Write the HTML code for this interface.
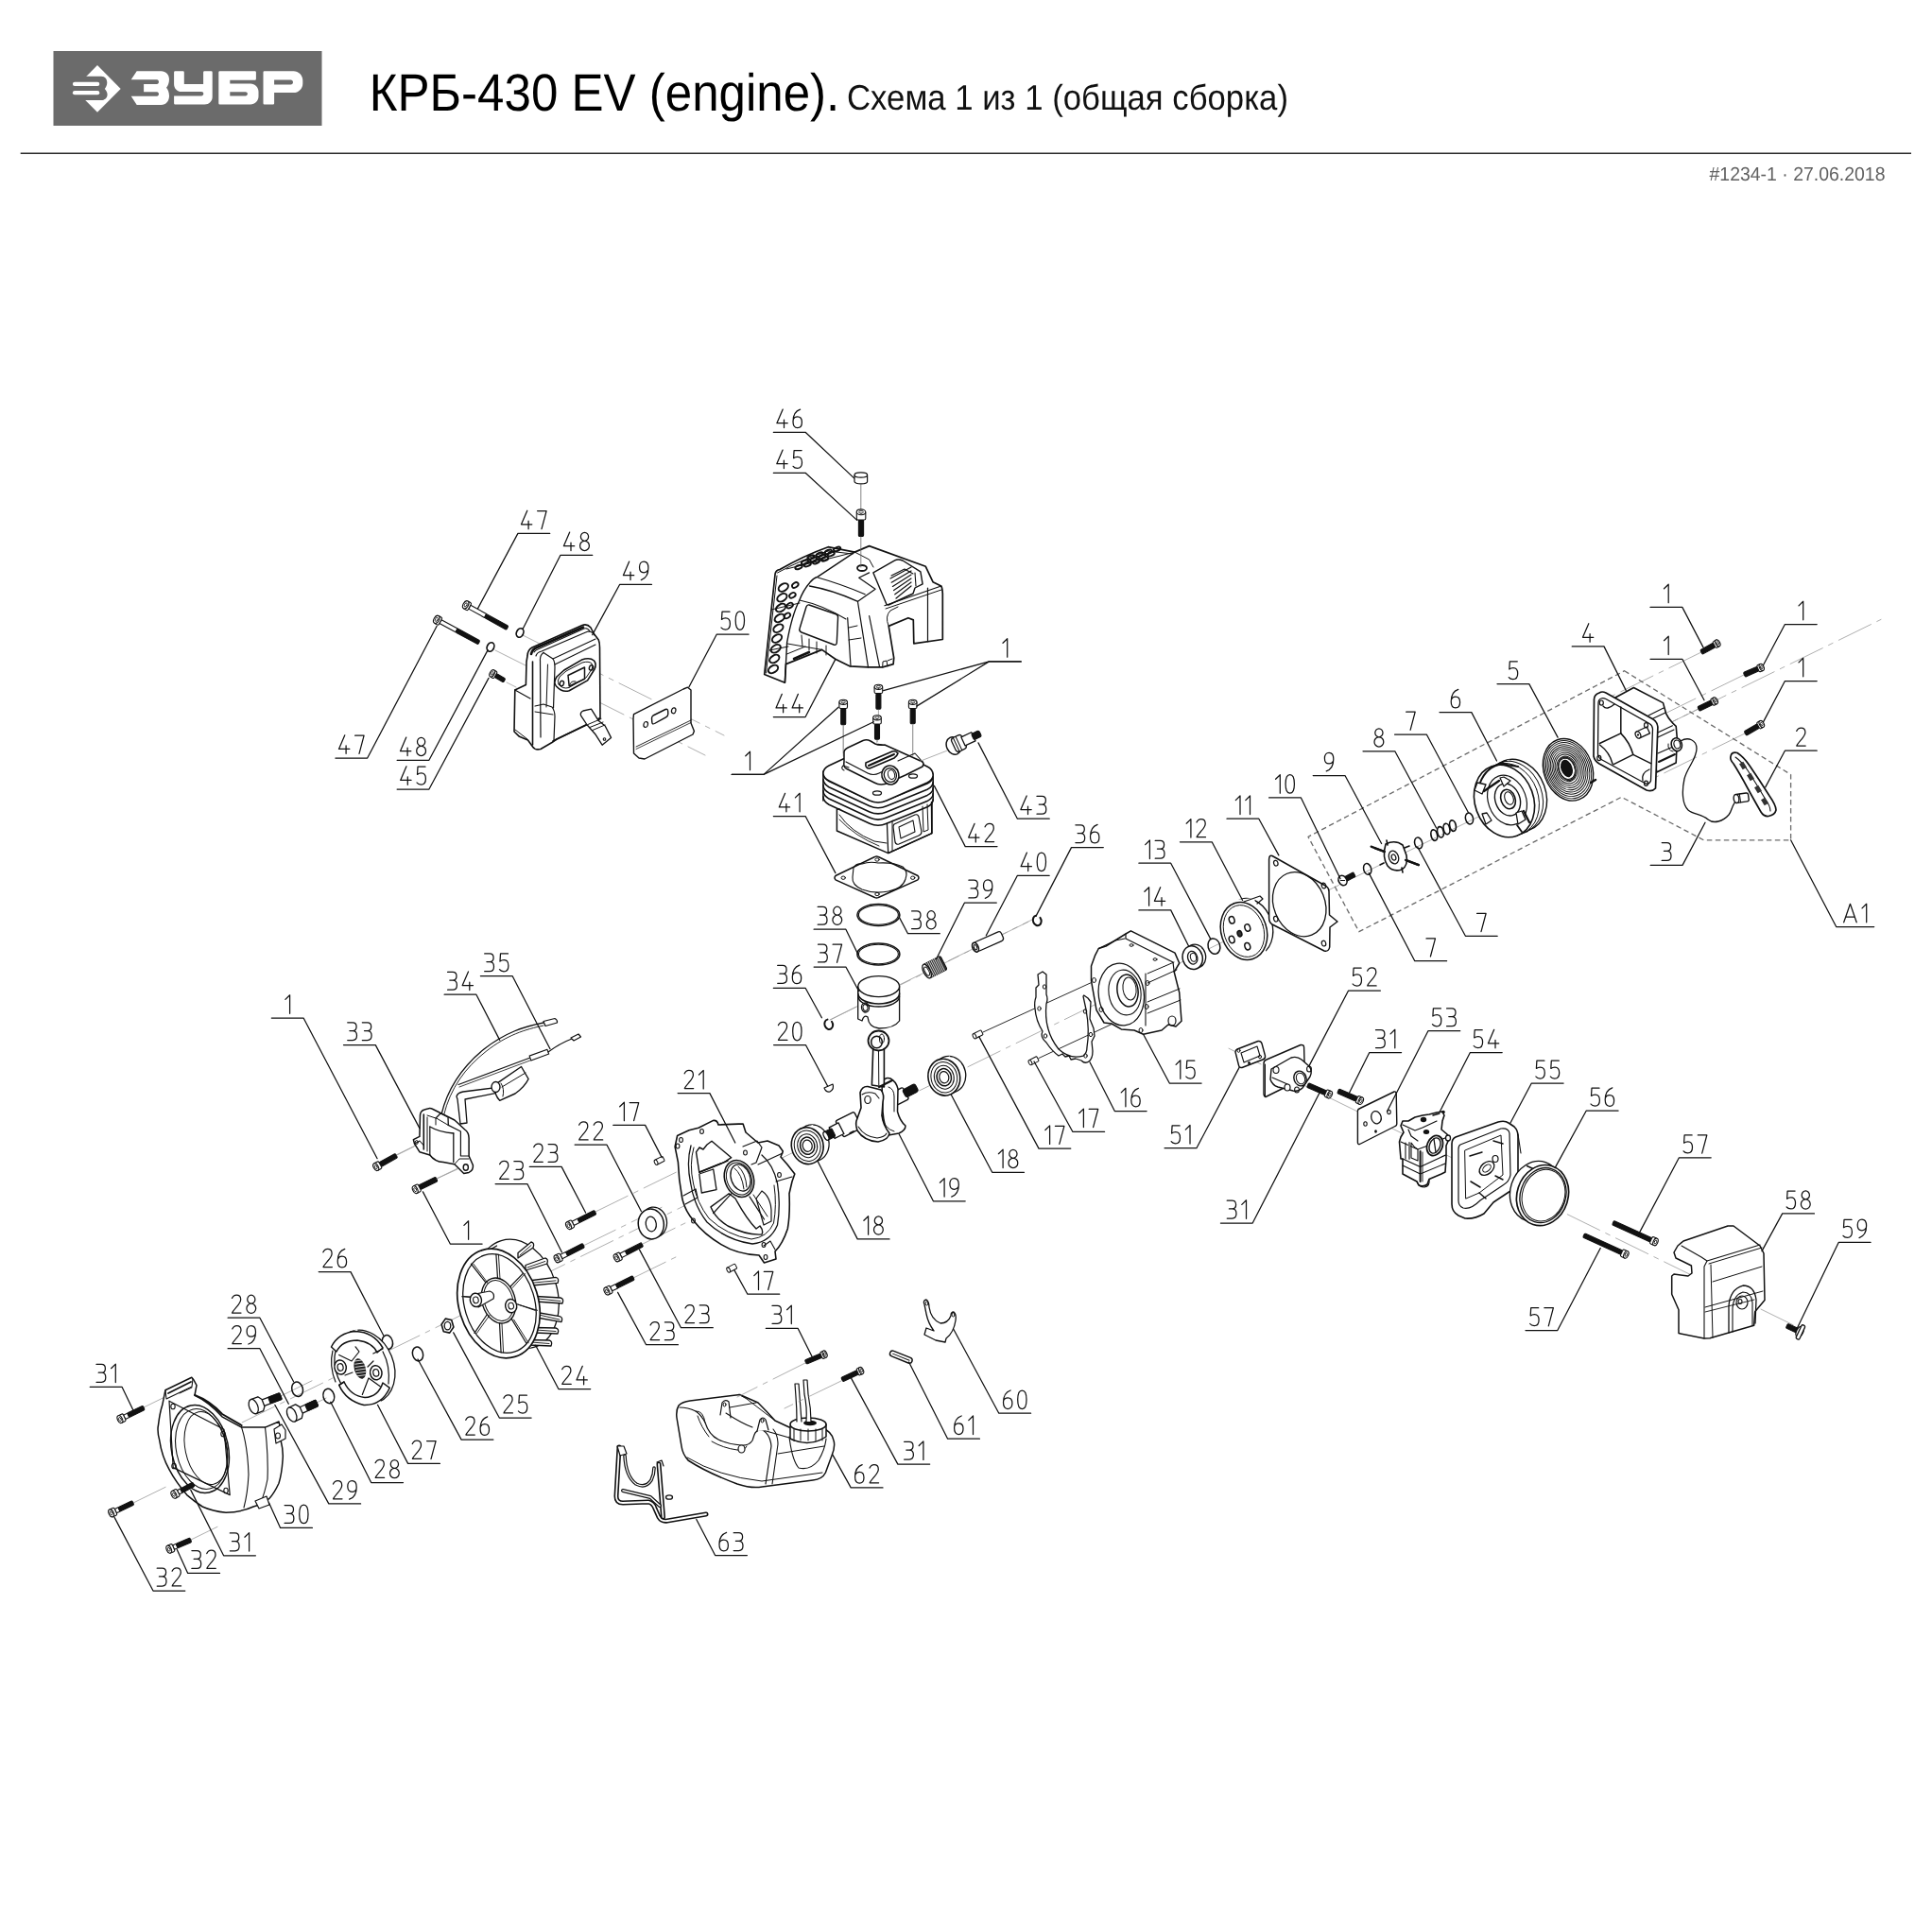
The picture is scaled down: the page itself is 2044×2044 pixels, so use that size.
<!DOCTYPE html>
<html><head><meta charset="utf-8"><title>КРБ-430 EV</title>
<style>html,body{margin:0;padding:0;background:#fff;width:2044px;height:2044px;overflow:hidden}svg{display:block}text{-webkit-font-smoothing:antialiased;text-rendering:geometricPrecision}.ax{stroke:#9a9a9a;stroke-width:0.8;stroke-dasharray:38 7 5 7;fill:none}</style>
</head><body>
<svg xmlns="http://www.w3.org/2000/svg" width="2044" height="2044" viewBox="0 0 2044 2044">
<rect width="2044" height="2044" fill="#fff"/>
<defs><filter id="nolcd" x="0" y="0" width="1" height="1"><feOffset dx="0" dy="0"/></filter></defs>
<rect x="56.5" y="54" width="284" height="79" fill="#6b6b6b"/>
<g fill="#fff" stroke="none">
<polygon points="103,68.9 127.7,93.9 103,118.7 78.3,93.9"/>
<path fill="#6b6b6b" d="M78,80.7 H107 C111.3,80.7 113.4,84 113.3,87.4 C113.2,90.3 112,92.3 110.8,93.9 C112.2,95.4 113.6,97.6 113.6,100 C113.6,103.6 110.7,106.1 107,106.1 H78 Z"/>
<rect x="76.9" y="86.8" width="28.4" height="4.2" rx="2.1"/>
<rect x="76.9" y="96.1" width="28.4" height="4.2" rx="2.1"/>
<path d="M144.7,75.2 H170.5 C175.5,75.2 179,79 179,84 C179,88 177.5,91 176,92.8 C177.5,94.5 179,97.5 179,101.5 C179,107 175.5,111 170.5,111 H144.7 L138.7,101.7 H166 C167.3,101.7 168,100.7 168,99.5 C168,98.2 167.3,97.2 166,97.2 H152.1 V89 H166 C167.3,89 168,88 168,86.8 C168,85.5 167.3,84.2 166,84.2 H138.7 Z"/>
<path d="M184.1,76.5 Q184.1,75.3 185.3,75.3 H193.6 Q194.8,75.3 194.8,76.5 V89 H215.1 V76.5 Q215.1,75.3 216.3,75.3 H223.5 Q224.7,75.3 224.7,76.5 V102.5 C224.7,107 221,110.5 216.5,110.5 H185.3 Q184.1,110.5 184.1,109.3 V101.4 H213 C214.4,101.4 215.3,100.4 215.3,99.2 C215.3,98 214.4,97.1 213,97.1 H192 C187.6,97.1 184.1,93.6 184.1,89.2 Z"/>
<path d="M231.3,76.5 Q231.3,75.3 232.5,75.3 H269.7 Q270.9,75.3 270.9,76.5 V83.6 Q270.9,84.8 269.7,84.8 H243.3 V88.6 H265 C269.7,88.6 273.5,92.4 273.5,97.1 V102 C273.5,106.7 269.7,110.5 265,110.5 H232.5 Q231.3,110.5 231.3,109.3 Z M243.3,97.3 V101.4 H259.7 C261,101.4 261.9,100.5 261.9,99.3 C261.9,98.2 261,97.3 259.7,97.3 Z" fill-rule="evenodd"/>
<path d="M278.5,76.5 Q278.5,75.3 279.7,75.3 H310.5 C315.8,75.3 320.3,79.6 320.3,85 V88.4 C320.3,93.8 315.8,98.1 310.5,98.1 H290.1 V109.3 Q290.1,110.5 288.9,110.5 H279.7 Q278.5,110.5 278.5,109.3 Z M290.1,84.4 V89.4 H307.6 C309,89.4 310,88.3 310,86.9 C310,85.5 309,84.4 307.6,84.4 Z" fill-rule="evenodd"/>
</g>
<text x="390.8" y="116.5" font-family="Liberation Sans" font-size="55.5" fill="#000" filter="url(#nolcd)" textLength="497.5" lengthAdjust="spacingAndGlyphs">КРБ-430 EV (engine).</text>
<text x="896" y="116" font-family="Liberation Sans" font-size="37.5" fill="#111" filter="url(#nolcd)" textLength="467" lengthAdjust="spacingAndGlyphs">Схема 1 из 1 (общая сборка)</text>
<line x1="21.7" y1="162.2" x2="2022" y2="162.2" stroke="#2a2a2a" stroke-width="1.4"/>
<text x="1808.5" y="191" font-family="Liberation Sans" font-size="20.5" fill="#606060" filter="url(#nolcd)" textLength="186" lengthAdjust="spacingAndGlyphs">#1234-1 · 27.06.2018</text>
<g fill="none" stroke="#111" stroke-linejoin="round" stroke-linecap="round">
<line x1="553" y1="672" x2="766" y2="778" class="ax"/>
<line x1="524" y1="688" x2="746" y2="799" class="ax"/>
<line x1="536" y1="722" x2="546" y2="727" class="ax"/>
<line x1="205" y1="1530" x2="1990" y2="655.4" class="ax"/>
<line x1="152" y1="1489" x2="185" y2="1472.8" class="ax"/>
<line x1="141" y1="1590" x2="180" y2="1570.9" class="ax"/>
<line x1="202" y1="1629" x2="230" y2="1615.3" class="ax"/>
<line x1="205" y1="1570" x2="240" y2="1552.8" class="ax"/>
<line x1="297" y1="1477" x2="330" y2="1460.8" class="ax"/>
<line x1="335" y1="1484" x2="345" y2="1479.1" class="ax"/>
<line x1="419" y1="1222" x2="440" y2="1211.7" class="ax"/>
<line x1="462" y1="1247" x2="486" y2="1235.2" class="ax"/>
<line x1="630" y1="1282" x2="730" y2="1233" class="ax"/>
<line x1="617" y1="1318" x2="700" y2="1277.3" class="ax"/>
<line x1="680" y1="1316" x2="760" y2="1276.8" class="ax"/>
<line x1="670" y1="1352" x2="720" y2="1327.5" class="ax"/>
<line x1="1800" y1="690" x2="1697" y2="740.5" class="ax"/>
<line x1="1797" y1="750" x2="1694" y2="800.5" class="ax"/>
<line x1="1845" y1="714" x2="1744" y2="763.5" class="ax"/>
<line x1="1846" y1="776" x2="1741" y2="827.5" class="ax"/>
<line x1="1300" y1="1109.2" x2="1900" y2="1403.2" class="ax"/>
<line x1="878" y1="1079" x2="1094" y2="972" class="ax"/>
<line x1="892.2" y1="767" x2="892.2" y2="800" stroke="#999" stroke-width="0.8"/>
<line x1="965.7" y1="767" x2="965.7" y2="800" stroke="#999" stroke-width="0.8"/>
<line x1="928" y1="783" x2="928" y2="835" stroke="#999" stroke-width="0.8"/>
<g transform="translate(492,639.5) rotate(29)"><rect x="5.5" y="-2.2" width="19.2" height="4.4" fill="#fff" stroke-width="1.1"/><rect x="24.7" y="-2.2" width="26.5" height="4.4" rx="1.2" fill="#111" stroke-width="1.1"/><rect x="0" y="-4.5" width="5.5" height="9" rx="1.5" fill="#fff" stroke-width="1.1"/><ellipse cx="0.8" cy="0" rx="2.7" ry="4.5" fill="#fff" stroke-width="1.1"/><ellipse cx="0.8" cy="0" rx="1.3" ry="2.2" fill="none" stroke-width="0.8"/></g>
<g transform="translate(461.1,655) rotate(28.5)"><rect x="5.5" y="-2.2" width="19.5" height="4.4" fill="#fff" stroke-width="1.1"/><rect x="25" y="-2.2" width="26.9" height="4.4" rx="1.2" fill="#111" stroke-width="1.1"/><rect x="0" y="-4.5" width="5.5" height="9" rx="1.5" fill="#fff" stroke-width="1.1"/><ellipse cx="0.8" cy="0" rx="2.7" ry="4.5" fill="#fff" stroke-width="1.1"/><ellipse cx="0.8" cy="0" rx="1.3" ry="2.2" fill="none" stroke-width="0.8"/></g>
<ellipse cx="550.1" cy="669.5" rx="3.6" ry="4.9" fill="none" stroke-width="1.7" transform="rotate(25 550.1 669.5)" />
<ellipse cx="519" cy="684.5" rx="3.6" ry="4.9" fill="none" stroke-width="1.7" transform="rotate(25 519 684.5)" />
<g transform="translate(520,712) rotate(30.5)"><rect x="5" y="-2.2" width="10.8" height="4.4" rx="1.2" fill="#111" stroke-width="1.1"/><rect x="0" y="-4" width="5" height="8" rx="1.5" fill="#fff" stroke-width="1.1"/><ellipse cx="0.8" cy="0" rx="2.4" ry="4" fill="#fff" stroke-width="1.1"/><ellipse cx="0.8" cy="0" rx="1.2" ry="2" fill="none" stroke-width="0.8"/></g>
<path d="M558,694 Q558,688 563,685 L616,661.5 Q621,659.5 625,664 L628,670 L633.3,677 Q634.5,680 634.5,685 L635,760 L589,782 L584,785.5 L572,792.5 Q566,794 563.4,789.8 L558.5,783 L549.5,779.3 L544,774 L544.8,730 L556.4,724.5 L557,700 Z" fill="#fff" stroke-width="1.6" />
<path d="M562,692 Q563,687 568,685 L617,663.5" fill="none" stroke-width="2.6" />
<path d="M565,690 Q566,688 570,686.5 L618,665 Q622,664 624,668" fill="none" stroke-width="1.1" />
<path d="M563.5,700 L563.5,788" fill="none" stroke-width="1.6" />
<path d="M567,694 Q568,690 573,689 L622,668 Q627,668 629,672" fill="none" stroke-width="1.2" />
<path d="M575,690.4 Q571,693 571.5,699 L572,780" fill="none" stroke-width="1.2" />
<path d="M575,690.4 L585,697 Q587,700 587,706 L585.5,749" fill="none" stroke-width="1.2" />
<path d="M585,697 L630,676" fill="none" stroke-width="1.1" />
<path d="M587,703 L630,682" fill="none" stroke-width="1.1" />
<path d="M579.5,703 L578,748" fill="none" stroke-width="1.0" />
<path d="M544.8,730 L561,739" fill="none" stroke-width="1.2" />
<path d="M566,747 L575,745 L584,748 Q587,752 587,758 L586,783" fill="none" stroke-width="1.2" />
<path d="M566,753 L585,756" fill="none" stroke-width="1.0" />
<path d="M545,772 L558,782" fill="none" stroke-width="1.0" />
<path d="M585,784 L634,760" fill="none" stroke-width="1.6" />
<path d="M588.5,726 Q585,722 589,716 L596.8,709 L615.4,698.1 Q624,695 628.5,699 Q631.5,703 629,708 L621.6,719.9 L602.2,730.7 Q595,733 588.5,726 Z" fill="#fff" stroke-width="1.6" />
<path d="M591,724 Q589,720 592,716 L599,710 L616,701 Q623,699 626,702 Q628,705 626,708 L620,717 L602,727.5 Q595,729.5 591,724 Z" fill="none" stroke-width="1.0" />
<path d="M601,714.5 L618.5,706 L618.5,718.3 L602.2,726 Z" fill="none" stroke-width="1.5" />
<path d="M603,724 Q604,720 609,721" fill="none" stroke-width="1.0" />
<ellipse cx="594.4" cy="723" rx="2.1" ry="2.7" fill="none" stroke-width="1.4" transform="rotate(15 594.4 723)" />
<ellipse cx="625.5" cy="706.5" rx="2.1" ry="2.7" fill="none" stroke-width="1.4" transform="rotate(15 625.5 706.5)" />
<path d="M614.6,757.1 Q613.5,753.5 617,752 L625.5,750.2 L633.3,762.6 L640.2,768 L646.5,780.4 L637.1,788.2 L630.2,777.3 L620.8,766.5 Z" fill="#fff" stroke-width="1.3" />
<line x1="622" y1="766.5" x2="636" y2="760.5" stroke-width="1.0" />
<line x1="624" y1="769.5" x2="638" y2="764" stroke-width="1.0" />
<line x1="627" y1="772.5" x2="640" y2="767" stroke-width="1.0" />
<ellipse cx="639.5" cy="782" rx="1.3" ry="1.3" fill="none" stroke-width="1.1" />
<polygon points="670.5,755.7 723,729 727.5,727.2 731,730 731,765 734.4,773.4 733,777 682,803 676,802 670.5,797 670,760" fill="#fff" stroke-width="1.4" />
<polyline points="673,790 731,762" fill="none" stroke-width="0.9" />
<polyline points="673,792.5 731,764.5" fill="none" stroke-width="0.8" />
<path d="M691,757 L704,750.5 Q706.5,749.5 706.7,752.5 L706.8,755.5 Q706.8,757.5 704.5,758.8 L692.5,765.5 Q690,766.8 689.8,764 L689.5,760 Q689.5,758 691,757 Z" fill="none" stroke-width="1.4" />
<ellipse cx="683.2" cy="766.5" rx="2.2" ry="3" fill="none" stroke-width="1.2" transform="rotate(15 683.2 766.5)" />
<ellipse cx="712.7" cy="751.8" rx="2.2" ry="3" fill="none" stroke-width="1.2" transform="rotate(15 712.7 751.8)" />
<path d="M808.7,713.5 L820.1,607 Q821,603 825,602.6 Q850,588 876.1,578.7 L904.3,584.1 L919.6,577.6 L979.3,599.3 L987,615.7 L995.7,620 Q997,622 997.3,628 L997.3,676.5 L966.8,680.9 L966.3,655.9 L960.9,653.7 L940.2,662.4 L945.7,696.1 L945.1,702.6 L933.7,705.9 L918.5,705.9 L898.9,704.8 L883.7,697.2 L869.6,687.4 L831.5,702.6 L830.4,722.2 Z" fill="#fff" stroke-width="1.7" />
<path d="M830.4,722.2 L832.6,679.8 Q838,650 845.7,635.2 Q850,624 856.5,616.7 Q860,612 865.2,610.2 L904.3,584.1" fill="none" stroke-width="1.4" />
<path d="M810.5,712 L822,609" fill="none" stroke-width="1.0" />
<path d="M822.5,606 Q848,592 876,583 L902,586" fill="none" stroke-width="1.0" />
<ellipse cx="828.8" cy="621.5" rx="5.6" ry="3.6" fill="none" stroke-width="2.0" transform="rotate(-32 828.8 621.5)" />
<ellipse cx="841.3" cy="619" rx="3.6" ry="2.4" fill="none" stroke-width="1.8" transform="rotate(-32 841.3 619)" />
<ellipse cx="827.4" cy="632.3" rx="5.6" ry="3.6" fill="none" stroke-width="2.0" transform="rotate(-32 827.4 632.3)" />
<ellipse cx="838.4" cy="629.8" rx="3.6" ry="2.4" fill="none" stroke-width="1.8" transform="rotate(-32 838.4 629.8)" />
<ellipse cx="826.1" cy="643.1" rx="5.6" ry="3.6" fill="none" stroke-width="2.0" transform="rotate(-32 826.1 643.1)" />
<ellipse cx="835.6" cy="640.6" rx="3.6" ry="2.4" fill="none" stroke-width="1.8" transform="rotate(-32 835.6 640.6)" />
<ellipse cx="824.8" cy="653.9" rx="5.6" ry="3.6" fill="none" stroke-width="2.0" transform="rotate(-32 824.8 653.9)" />
<ellipse cx="832.8" cy="651.4" rx="3.6" ry="2.4" fill="none" stroke-width="1.8" transform="rotate(-32 832.8 651.4)" />
<ellipse cx="823.4" cy="664.7" rx="5.6" ry="3.6" fill="none" stroke-width="2.0" transform="rotate(-32 823.4 664.7)" />
<ellipse cx="822" cy="675.5" rx="5.6" ry="3.6" fill="none" stroke-width="2.0" transform="rotate(-32 822 675.5)" />
<ellipse cx="820.7" cy="686.3" rx="5.6" ry="3.6" fill="none" stroke-width="2.0" transform="rotate(-32 820.7 686.3)" />
<ellipse cx="819.3" cy="697.1" rx="5.6" ry="3.6" fill="none" stroke-width="2.0" transform="rotate(-32 819.3 697.1)" />
<ellipse cx="818" cy="707.9" rx="5.6" ry="3.6" fill="none" stroke-width="2.0" transform="rotate(-32 818 707.9)" />
<path d="M816,645 L846,638" fill="none" stroke-width="1.0" />
<path d="M814,688 L834,684" fill="none" stroke-width="1.0" />
<ellipse cx="845" cy="600" rx="3.8" ry="1.9" fill="none" stroke-width="2.0" transform="rotate(-20 845 600)" />
<ellipse cx="854.2" cy="597.1" rx="3.8" ry="1.9" fill="none" stroke-width="2.0" transform="rotate(-20 854.2 597.1)" />
<ellipse cx="863.4" cy="594.2" rx="3.8" ry="1.9" fill="none" stroke-width="2.0" transform="rotate(-20 863.4 594.2)" />
<ellipse cx="872.6" cy="591.3" rx="3.8" ry="1.9" fill="none" stroke-width="2.0" transform="rotate(-20 872.6 591.3)" />
<ellipse cx="851.5" cy="594.8" rx="3.8" ry="1.9" fill="none" stroke-width="2.0" transform="rotate(-20 851.5 594.8)" />
<ellipse cx="860.7" cy="591.9" rx="3.8" ry="1.9" fill="none" stroke-width="2.0" transform="rotate(-20 860.7 591.9)" />
<ellipse cx="869.9" cy="589" rx="3.8" ry="1.9" fill="none" stroke-width="2.0" transform="rotate(-20 869.9 589)" />
<ellipse cx="879.1" cy="586.1" rx="3.8" ry="1.9" fill="none" stroke-width="2.0" transform="rotate(-20 879.1 586.1)" />
<ellipse cx="858" cy="589.6" rx="3.8" ry="1.9" fill="none" stroke-width="2.0" transform="rotate(-20 858 589.6)" />
<ellipse cx="867.2" cy="586.7" rx="3.8" ry="1.9" fill="none" stroke-width="2.0" transform="rotate(-20 867.2 586.7)" />
<ellipse cx="876.4" cy="583.8" rx="3.8" ry="1.9" fill="none" stroke-width="2.0" transform="rotate(-20 876.4 583.8)" />
<ellipse cx="885.6" cy="580.9" rx="3.8" ry="1.9" fill="none" stroke-width="2.0" transform="rotate(-20 885.6 580.9)" />
<path d="M832,602 L873,592 L905,584" fill="none" stroke-width="1.0" />
<path d="M856.5,620 Q880,624 907.6,636.3" fill="none" stroke-width="1.3" />
<path d="M865.2,611 Q890,618 915.2,628.7" fill="none" stroke-width="1.2" />
<path d="M907.6,636.3 L926.1,623.3 L908.7,611.3 L919.6,605.9" fill="none" stroke-width="1.2" />
<path d="M904.3,584.1 L919.6,592 L924,600" fill="none" stroke-width="1.0" />
<ellipse cx="912" cy="601" rx="5" ry="3" fill="#fff" stroke-width="1.8" />
<path d="M856,640 L885,650 Q887,651 886.5,654 L885.3,680 Q885,683 882,682 L848,669 Q845,667.5 846,665 L853,642 Q854,639.5 856,640 Z" fill="#fff" stroke-width="1.4" />
<path d="M846,635 Q870,640 895,655" fill="none" stroke-width="1.1" />
<path d="M848,672 L849,684 M856,676 L856,688 M864,679 L864,691 M874,683 L874,693" fill="none" stroke-width="1.0" />
<path d="M896.7,653.7 L900,704.8" fill="none" stroke-width="1.2" />
<path d="M907.6,637.4 L918.5,705.9" fill="none" stroke-width="1.2" />
<path d="M919.6,651.5 L930.4,704.8" fill="none" stroke-width="1.2" />
<path d="M898,664 L907,662 M898,677 L911,675" fill="none" stroke-width="1.0" />
<path d="M923.9,605.9 L946.7,592.8 Q950,591 955,593 L973.9,604.8 L976.1,617.8 L968,622 L966,628 L940,640 L938,639.6 Z" fill="#fff" stroke-width="1.4" />
<line x1="942" y1="612" x2="964" y2="600" stroke-width="1.2" />
<line x1="943.2" y1="616.2" x2="964" y2="604" stroke-width="1.2" />
<line x1="944.4" y1="620.4" x2="964" y2="608" stroke-width="1.2" />
<line x1="945.6" y1="624.6" x2="964" y2="612" stroke-width="1.2" />
<line x1="946.8" y1="628.8" x2="964" y2="616" stroke-width="1.2" />
<line x1="948" y1="633" x2="964" y2="620" stroke-width="1.2" />
<path d="M943,609 L957,602 L966,607" fill="none" stroke-width="1.1" />
<path d="M968,606 L969,620" fill="none" stroke-width="1.1" />
<path d="M935.9,640.7 L995.7,620" fill="none" stroke-width="1.2" />
<path d="M937,644 L996,624" fill="none" stroke-width="1.0" />
<path d="M981.5,622.2 L981.5,678.7" fill="none" stroke-width="1.2" />
<path d="M940,662 Q936,652 942,646 L950,642" fill="none" stroke-width="1.0" />
<path d="M832.6,680.9 L869.6,687.4" fill="none" stroke-width="1.0" />
<line x1="840" y1="697" x2="856" y2="690" stroke-width="2.6" />
<path d="M832.5,692 L852,684" fill="none" stroke-width="1.0" />
<path d="M933.7,705.9 L934,700 L938,699 L939,705 M939,699 L944,697" fill="none" stroke-width="1.0" />
<path d="M904,503 V509.5 A6.8,2.4 0 0,0 917.6,509.5 V503" fill="#fff" stroke-width="1.2"/>
<ellipse cx="910.8" cy="502.5" rx="6.8" ry="2.6" fill="#fff" stroke-width="1.2" />
<line x1="910.8" y1="512" x2="910.8" y2="541" stroke-width="0.8" stroke="#666"/>
<g transform="translate(911,541) rotate(90)"><rect x="9" y="-2.6" width="17.5" height="5.2" rx="1.2" fill="#111" stroke-width="1.1"/><rect x="0" y="-4.8" width="9" height="9.5" rx="1.5" fill="#fff" stroke-width="1.1"/><ellipse cx="0.8" cy="0" rx="2.9" ry="4.8" fill="#fff" stroke-width="1.1"/><ellipse cx="0.8" cy="0" rx="1.4" ry="2.4" fill="none" stroke-width="0.8"/></g>
<line x1="910.8" y1="568" x2="910.8" y2="600" stroke-width="0.8" stroke="#666"/>
<g transform="translate(929.4,726) rotate(90)"><rect x="7.5" y="-2.5" width="16.7" height="5" rx="1.2" fill="#111" stroke-width="1.1"/><rect x="0" y="-4.3" width="7.5" height="8.6" rx="1.5" fill="#fff" stroke-width="1.1"/><ellipse cx="0.8" cy="0" rx="2.6" ry="4.3" fill="#fff" stroke-width="1.1"/><ellipse cx="0.8" cy="0" rx="1.3" ry="2.1" fill="none" stroke-width="0.8"/></g>
<line x1="929.4" y1="751.2" x2="929.4" y2="780.2" stroke-width="0.7" stroke="#888"/>
<g transform="translate(892.2,742) rotate(90)"><rect x="7.5" y="-2.5" width="17.3" height="5" rx="1.2" fill="#111" stroke-width="1.1"/><rect x="0" y="-4.3" width="7.5" height="8.6" rx="1.5" fill="#fff" stroke-width="1.1"/><ellipse cx="0.8" cy="0" rx="2.6" ry="4.3" fill="#fff" stroke-width="1.1"/><ellipse cx="0.8" cy="0" rx="1.3" ry="2.1" fill="none" stroke-width="0.8"/></g>
<line x1="892.2" y1="767.8" x2="892.2" y2="796.8" stroke-width="0.7" stroke="#888"/>
<g transform="translate(965.7,742) rotate(90)"><rect x="7.5" y="-2.5" width="16.3" height="5" rx="1.2" fill="#111" stroke-width="1.1"/><rect x="0" y="-4.3" width="7.5" height="8.6" rx="1.5" fill="#fff" stroke-width="1.1"/><ellipse cx="0.8" cy="0" rx="2.6" ry="4.3" fill="#fff" stroke-width="1.1"/><ellipse cx="0.8" cy="0" rx="1.3" ry="2.1" fill="none" stroke-width="0.8"/></g>
<line x1="965.7" y1="766.8" x2="965.7" y2="795.8" stroke-width="0.7" stroke="#888"/>
<g transform="translate(928,758.5) rotate(90)"><rect x="7.5" y="-2.5" width="16.3" height="5" rx="1.2" fill="#111" stroke-width="1.1"/><rect x="0" y="-4.3" width="7.5" height="8.6" rx="1.5" fill="#fff" stroke-width="1.1"/><ellipse cx="0.8" cy="0" rx="2.6" ry="4.3" fill="#fff" stroke-width="1.1"/><ellipse cx="0.8" cy="0" rx="1.3" ry="2.1" fill="none" stroke-width="0.8"/></g>
<line x1="928" y1="783.3" x2="928" y2="812.3" stroke-width="0.7" stroke="#888"/>
<polygon points="885.4,856 885.4,879 939.7,902.6 986,881.6 986,846" fill="#fff" stroke-width="1.5" />
<polygon points="938.3,867.8 985.4,845.4 985.7,881.6 939.7,902.6" fill="none" stroke-width="1.3" />
<polyline points="944,866 944,900" fill="none" stroke-width="1.0" />
<path d="M946,872 L968,862 Q971,861 972,864 L975,880 Q975,883 972,884 L951,893 Q948,894 947,891 L945,875 Q945,873 946,872 Z" fill="none" stroke-width="1.2" />
<path d="M951,875 L966,868 L968,880 L953,887 Z" fill="none" stroke-width="1.1" />
<polyline points="976,853 977,880 982,878 981,851" fill="none" stroke-width="1.0" />
<path d="M888,862 Q900,880 925,890 L938,892" fill="none" stroke-width="1.0" />
<path d="M888,867 Q905,885 930,895" fill="none" stroke-width="0.9" />
<polygon points="870.9,816 929,785 987.2,819 987.2,847 929,875 870.9,847" fill="#fff" stroke-width="0" stroke="none"/>
<line x1="870.9" y1="816" x2="870.9" y2="847" stroke-width="1.5" />
<line x1="987.2" y1="819" x2="987.2" y2="847" stroke-width="1.5" />
<path d="M870.9,818 Q871,823 877,826.5 L920,846.5 Q929,850.5 938,846.5 L981,829 Q987.2,826 987.2,821" fill="none" stroke-width="1.6" />
<path d="M870.9,824.2 Q871,829.2 877,832.7 L920,852.7 Q929,856.7 938,852.7 L981,835.2 Q987.2,832.2 987.2,827.2" fill="none" stroke-width="1.6" />
<path d="M870.9,830.4 Q871,835.4 877,838.9 L920,858.9 Q929,862.9 938,858.9 L981,841.4 Q987.2,838.4 987.2,833.4" fill="none" stroke-width="1.6" />
<path d="M870.9,836.6 Q871,841.6 877,845.1 L920,865.1 Q929,869.1 938,865.1 L981,847.6 Q987.2,844.6 987.2,839.6" fill="none" stroke-width="1.6" />
<path d="M870.9,842.8 Q871,847.8 877,851.3 L920,871.3 Q929,875.3 938,871.3 L981,853.8 Q987.2,850.8 987.2,845.8" fill="none" stroke-width="1.6" />
<path d="M870.9,818 Q871,813 877,810 L922,789 Q929,786 936,789 L981,811 Q987.2,814 987.2,820 Q987,825 981,828 L938,847 Q929,851 920,847 L877,826 Q871,823 870.9,818 Z" fill="#fff" stroke-width="1.6" />
<path d="M893,801 L893,796 Q893,793 897,791 L913,783.5 Q917,782 921,784 L926,787 Q930,789 936,788 L976,806 Q978,808 976,811 L958,820 L940,828 Q932,832 925,828 L895,813 Q892,811 893,806 Z" fill="#fff" stroke-width="1.5" />
<path d="M895,806 L918,818 Q924,821 930,818 L942,812" fill="none" stroke-width="1.2" />
<path d="M916,807 L944,795 Q948,794 950,797 Q949,800 946,802 L920,813 Q915,813 916,807 Z" fill="#fff" stroke-width="1.6" />
<line x1="919" y1="810" x2="946" y2="798" stroke-width="2.0" />
<path d="M950,805 L968,797 L976,806" fill="none" stroke-width="1.1" />
<path d="M893,815 Q889,813 892,810 L898,812" fill="none" stroke-width="1.1" />
<ellipse cx="941.9" cy="820" rx="9" ry="10" fill="#fff" stroke-width="1.6" transform="rotate(-15 941.9 820)" />
<ellipse cx="941.9" cy="820" rx="6.5" ry="7.5" fill="none" stroke-width="1.3" transform="rotate(-15 941.9 820)" />
<ellipse cx="943" cy="819.5" rx="3.5" ry="5" fill="none" stroke-width="1.0" transform="rotate(-15 943 819.5)" />
<ellipse cx="928" cy="839" rx="4.5" ry="2.2" fill="none" stroke-width="1.3" />
<ellipse cx="966" cy="821" rx="4.5" ry="2.2" fill="none" stroke-width="1.3" />
<line x1="972.9" y1="805.5" x2="1001.9" y2="794.2" class="ax"/>
<ellipse cx="1009" cy="789" rx="7.5" ry="9.5" fill="#fff" stroke-width="1.5" transform="rotate(-25 1009 789)" />
<g transform="translate(1009,789) rotate(-25)">
<rect x="0" y="-8" width="12" height="16" rx="3" fill="#fff" stroke-width="1.3"/>
<rect x="11" y="-5" width="12" height="10" fill="#fff" stroke-width="1.3"/>
<rect x="22" y="-3.5" width="9" height="7" rx="2" fill="#111" stroke-width="1"/>
<line x1="3" y1="-8" x2="3" y2="8" stroke-width="1"/><line x1="6" y1="-8" x2="6" y2="8" stroke-width="1"/>
</g>
<path d="M884,926.5 L925.5,906.5 Q927.4,905.5 929.3,906.5 L971,926.5 Q973,928.7 971,930.9 L929.3,949.5 Q927.4,950.5 925.5,949.5 L884,930.9 Q882,928.7 884,926.5 Z" fill="#fff" stroke-width="1.4" />
<path d="M903,918 Q906,913 912,914 Q920,911 929,913 Q945,912 955,917 Q961,922 958,930 Q955,940 940,943 Q925,946 912,941 Q901,936 902,928 Z" fill="none" stroke-width="1.1"/>
<ellipse cx="892.2" cy="928.7" rx="2.2" ry="1.7" fill="none" stroke-width="1.0" />
<ellipse cx="928" cy="909.5" rx="2.2" ry="1.7" fill="none" stroke-width="1.0" />
<ellipse cx="965.7" cy="928.7" rx="2.2" ry="1.7" fill="none" stroke-width="1.0" />
<ellipse cx="928" cy="946" rx="2.2" ry="1.7" fill="none" stroke-width="1.0" />
<ellipse cx="929.4" cy="968" rx="22.5" ry="11.4" fill="none" stroke-width="1.5" />
<ellipse cx="929.4" cy="968" rx="21" ry="10.2" fill="none" stroke-width="1.1" />
<ellipse cx="929.4" cy="1009.5" rx="22.5" ry="11.4" fill="none" stroke-width="1.5" />
<ellipse cx="929.4" cy="1009.5" rx="21" ry="10.2" fill="none" stroke-width="1.1" />
<path d="M907.7,1043.6 V1078 L912,1080 Q914,1073 918,1076 Q919,1087 930,1088 Q946,1088 951.6,1080 V1043.6" fill="#fff" stroke-width="1.3"/>
<ellipse cx="929.7" cy="1043.6" rx="21.9" ry="11" fill="#fff" stroke-width="1.4" />
<path d="M907.8,1051 A21.9,11 0 0,0 951.6,1051" fill="none" stroke-width="1.6"/>
<path d="M907.8,1054 A21.9,11 0 0,0 951.6,1054" fill="none" stroke-width="1.4"/>
<ellipse cx="915.5" cy="1066" rx="4" ry="5" fill="none" stroke-width="1.3" transform="rotate(-10 915.5 1066)" />
<ellipse cx="915.5" cy="1066" rx="2.5" ry="3.4" fill="none" stroke-width="1.0" transform="rotate(-10 915.5 1066)" />
<path d="M876.5,1079.5 a4.3,5.3 0 1,0 3.5,3.5" fill="none" stroke-width="2.0" transform="rotate(-20 873.5 1082)"/>
<path d="M1097,969.7 a4.3,5.3 0 1,0 3.5,3.5" fill="none" stroke-width="2.0" transform="rotate(-20 1094 972.2)"/>
<path d="M872,1151 L881,1147 Q883,1152 878,1155 Q874,1156 872,1151 Z" fill="#fff" stroke-width="1.2"/>
<line x1="952.2" y1="1041.6" x2="1087.8" y2="975.3" class="ax"/>
<line x1="905.6" y1="1065.4" x2="878.7" y2="1078.8" class="ax"/>
<g transform="translate(989.5,1023) rotate(-27)">
<rect x="-10" y="-8" width="20" height="16" rx="2" fill="#333" stroke-width="1.2"/>
<line x1="-7" y1="-8" x2="-7" y2="8" stroke="#fff" stroke-width="0.7"/>
<line x1="-5" y1="-8" x2="-5" y2="8" stroke="#fff" stroke-width="0.7"/>
<line x1="-3" y1="-8" x2="-3" y2="8" stroke="#fff" stroke-width="0.7"/>
<line x1="-1" y1="-8" x2="-1" y2="8" stroke="#fff" stroke-width="0.7"/>
<line x1="1" y1="-8" x2="1" y2="8" stroke="#fff" stroke-width="0.7"/>
<line x1="3" y1="-8" x2="3" y2="8" stroke="#fff" stroke-width="0.7"/>
<line x1="5" y1="-8" x2="5" y2="8" stroke="#fff" stroke-width="0.7"/>
<line x1="7" y1="-8" x2="7" y2="8" stroke="#fff" stroke-width="0.7"/>
<ellipse cx="-10" cy="0" rx="3.5" ry="8" fill="#fff" stroke-width="1.3"/>
<ellipse cx="-10" cy="0" rx="2" ry="5" fill="none" stroke-width="1"/>
</g>
<g transform="translate(1032,1002.2) rotate(-24)">
<rect x="0" y="-5.2" width="31" height="10.4" rx="3" fill="#fff" stroke-width="1.3"/>
<ellipse cx="0" cy="0" rx="3" ry="5.2" fill="#fff" stroke-width="1.6"/>
<ellipse cx="0" cy="0" rx="1.5" ry="2.8" fill="none" stroke-width="1.1"/>
</g>
<g transform="translate(1035,1094.2) rotate(-27)"><rect x="-4.5" y="-2.8" width="9" height="5.5" rx="1" fill="#fff" stroke-width="1"/><ellipse cx="-4.5" cy="0" rx="1.6" ry="2.8" fill="#fff" stroke-width="1"/></g>
<g transform="translate(1094,1122.1) rotate(-27)"><rect x="-4.5" y="-2.8" width="9" height="5.5" rx="1" fill="#fff" stroke-width="1"/><ellipse cx="-4.5" cy="0" rx="1.6" ry="2.8" fill="#fff" stroke-width="1"/></g>
<g transform="translate(698.1,1227.7) rotate(-27)"><rect x="-4.5" y="-2.8" width="9" height="5.5" rx="1" fill="#fff" stroke-width="1"/><ellipse cx="-4.5" cy="0" rx="1.6" ry="2.8" fill="#fff" stroke-width="1"/></g>
<g transform="translate(774.7,1341.5) rotate(-27)"><rect x="-4.5" y="-2.8" width="9" height="5.5" rx="1" fill="#fff" stroke-width="1"/><ellipse cx="-4.5" cy="0" rx="1.6" ry="2.8" fill="#fff" stroke-width="1"/></g>
<line x1="1040" y1="1092" x2="1155.3" y2="1039.2" stroke-width="0.9" />
<line x1="1099" y1="1119.5" x2="1208" y2="1068.7" stroke-width="0.9" />
<path d="M1098,1031 L1103,1028 L1107,1031 L1107,1052 Q1109,1057 1107,1062 Q1104,1090 1120,1110 Q1132,1121 1146,1117 Q1150,1114 1150,1108 Q1153,1090 1149,1068 L1146,1054 L1146.7,1053 L1151,1056 L1154,1060 L1153,1078 L1157,1088 L1158,1096 L1155,1102 L1156,1112 Q1156,1120 1152,1123 Q1148,1126 1144,1122 L1138,1120 L1133,1121 L1131,1117 L1127,1118 L1124,1115 L1120,1117 Q1113,1112 1107,1103 Q1100,1097 1103,1091 Q1096,1080 1095,1067 Q1094,1060 1096,1055 L1096,1045 L1099,1042 Z" fill="#fff" stroke-width="1.3" />
<ellipse cx="1099.5" cy="1067" rx="1.7" ry="2.2" fill="none" stroke-width="1.0" />
<ellipse cx="1106" cy="1096" rx="1.7" ry="2.2" fill="none" stroke-width="1.0" />
<ellipse cx="1148.5" cy="1117" rx="1.7" ry="2.2" fill="none" stroke-width="1.0" />
<ellipse cx="1154" cy="1094.5" rx="1.7" ry="2.2" fill="none" stroke-width="1.0" />
<ellipse cx="1105" cy="1044" rx="1.7" ry="2.2" fill="none" stroke-width="1.0" />
<ellipse cx="1148" cy="1070" rx="1.7" ry="2.2" fill="none" stroke-width="1.0" />
<polygon points="1191,988 1196.4,984.8 1243,1008.1 1247.7,1019 1242.2,1028.3 1247.7,1050 1250,1080.3 1244,1086 1236,1084 1229,1090 1209.6,1094.3 1200,1090 1186.3,1088.9 1176,1083 1168,1082 1160,1068.7 1154.5,1037.6 1154.5,1022.1 1158.4,1011.2 1162.3,1003.5 1170,1001" fill="#fff" stroke-width="1.5" />
<polyline points="1191,988 1191,993 1241,1018 1242.2,1028.3" fill="none" stroke-width="1.2" />
<polyline points="1162.3,1003.5 1180,995 1190,993" fill="none" stroke-width="1.1" />
<ellipse cx="1186.3" cy="1052" rx="24" ry="33" fill="#fff" stroke-width="1.3" transform="rotate(-8 1186.3 1052)" />
<ellipse cx="1190" cy="1050" rx="17" ry="24" fill="none" stroke-width="1.1" transform="rotate(-8 1190 1050)" />
<ellipse cx="1193" cy="1048" rx="11" ry="17" fill="none" stroke-width="1.5" transform="rotate(-8 1193 1048)" />
<ellipse cx="1195" cy="1046" rx="7" ry="12" fill="none" stroke-width="1.0" transform="rotate(-8 1195 1046)" />
<polyline points="1212,1030 1212,1085" fill="none" stroke-width="1.1" />
<polyline points="1214,1030 1242,1018" fill="none" stroke-width="1.0" />
<polyline points="1214,1040 1245,1026" fill="none" stroke-width="1.0" />
<polyline points="1214,1060 1248,1046" fill="none" stroke-width="1.0" />
<polyline points="1214,1072 1249,1058" fill="none" stroke-width="1.0" />
<ellipse cx="1240" cy="1080" rx="4" ry="5" fill="none" stroke-width="1.2" />
<ellipse cx="1157.5" cy="1037" rx="2" ry="2.5" fill="none" stroke-width="1.0" />
<ellipse cx="1165" cy="1068" rx="2" ry="2.5" fill="none" stroke-width="1.0" />
<ellipse cx="1207" cy="1090" rx="2" ry="2.5" fill="none" stroke-width="1.0" />
<ellipse cx="1214" cy="1040" rx="2" ry="2.5" fill="none" stroke-width="1.0" />
<ellipse cx="1213" cy="1065" rx="2" ry="2.5" fill="none" stroke-width="1.0" />
<ellipse cx="1197" cy="1000" rx="2" ry="1.3" fill="none" stroke-width="1.0" />
<ellipse cx="1222" cy="1015" rx="2" ry="1.3" fill="none" stroke-width="1.0" />
<ellipse cx="1004.8" cy="1136.7" rx="16.8" ry="19.5" fill="#fff" stroke-width="1.3" transform="rotate(-12 1004.8 1136.7)" />
<polygon points="998.8,1120.2 1004.8,1117.2 1004.8,1156.2 998.8,1159.2" fill="#fff" stroke="none"/>
<ellipse cx="998.8" cy="1139.7" rx="16.8" ry="19.5" fill="#fff" stroke-width="1.6" transform="rotate(-12 998.8 1139.7)" />
<ellipse cx="998.8" cy="1139.7" rx="13.8" ry="16.4" fill="none" stroke-width="1.0" transform="rotate(-12 998.8 1139.7)" />
<ellipse cx="998.8" cy="1139.7" rx="10.4" ry="12.5" fill="none" stroke-width="1.0" transform="rotate(-12 998.8 1139.7)" />
<ellipse cx="998.8" cy="1139.7" rx="7.6" ry="9.2" fill="#fff" stroke-width="1.5" transform="rotate(-12 998.8 1139.7)" />
<ellipse cx="998.8" cy="1139.7" rx="5" ry="6.2" fill="none" stroke-width="1.2" transform="rotate(-12 998.8 1139.7)" />
<ellipse cx="860.2" cy="1209.2" rx="16.8" ry="19.5" fill="#fff" stroke-width="1.3" transform="rotate(-12 860.2 1209.2)" />
<polygon points="854.2,1192.7 860.2,1189.7 860.2,1228.7 854.2,1231.7" fill="#fff" stroke="none"/>
<ellipse cx="854.2" cy="1212.2" rx="16.8" ry="19.5" fill="#fff" stroke-width="1.6" transform="rotate(-12 854.2 1212.2)" />
<ellipse cx="854.2" cy="1212.2" rx="13.8" ry="16.4" fill="none" stroke-width="1.0" transform="rotate(-12 854.2 1212.2)" />
<ellipse cx="854.2" cy="1212.2" rx="10.4" ry="12.5" fill="none" stroke-width="1.0" transform="rotate(-12 854.2 1212.2)" />
<ellipse cx="854.2" cy="1212.2" rx="7.6" ry="9.2" fill="#fff" stroke-width="1.5" transform="rotate(-12 854.2 1212.2)" />
<ellipse cx="854.2" cy="1212.2" rx="5" ry="6.2" fill="none" stroke-width="1.2" transform="rotate(-12 854.2 1212.2)" />
<g transform="translate(946,1163) rotate(-28)">
<rect x="0" y="-7" width="14" height="14" rx="2" fill="#fff" stroke-width="1.4"/>
<rect x="12" y="-4.5" width="15" height="9" rx="2.5" fill="#111" stroke-width="1.0"/>
</g>
<path d="M933,1146 Q936,1139 942,1141 Q948,1144 950,1152 L949.5,1176 Q952,1186 958,1191 Q958,1196 951,1199 L940,1201 Q935,1190 934,1176 Z" fill="#fff" stroke-width="1.5" />
<path d="M940,1150 Q946,1152 946,1160 L946,1176" fill="none" stroke-width="1.0" />
<g transform="translate(906,1185.5) rotate(153)">
<rect x="-2" y="-9.5" width="22" height="19" rx="2" fill="#fff" stroke-width="1.4"/>
<rect x="18" y="-6.5" width="11" height="13" fill="#fff" stroke-width="1.3"/>
<rect x="27" y="-4.8" width="9" height="9.6" rx="1.5" fill="#111" stroke-width="1.0"/>
<ellipse cx="36" cy="0" rx="2.2" ry="4.8" fill="#fff" stroke-width="1.3"/>
<line x1="8" y1="-9" x2="12" y2="-9" stroke-width="2"/>
</g>
<polygon points="923.7,1110 935.4,1110 935.4,1150 922.4,1148" fill="#fff" stroke-width="1.6" />
<line x1="929.5" y1="1112" x2="929.8" y2="1148" stroke-width="1.0" />
<ellipse cx="929.5" cy="1101" rx="11" ry="10.5" fill="#fff" stroke-width="1.8" />
<ellipse cx="927.5" cy="1102.5" rx="5.8" ry="6.3" fill="none" stroke-width="1.5" />
<ellipse cx="933" cy="1099" rx="2.5" ry="5" fill="none" stroke-width="1.0" />
<path d="M910,1156 Q912,1149 918,1149.5 L932,1153 Q936,1158 934,1166 L933,1180 Q934,1190 941,1199 Q940,1206 929,1208 Q914,1207 907,1196 Q905,1190 906,1186 L911,1172 Z" fill="#fff" stroke-width="1.6" />
<path d="M912,1158 Q918,1154 926,1157 L930,1162" fill="none" stroke-width="1.1" />
<ellipse cx="918" cy="1163.5" rx="3.2" ry="4" fill="none" stroke-width="1.2" />
<path d="M908,1192 Q915,1203 928,1204 Q936,1203 938,1199" fill="none" stroke-width="1.1" />
<path d="M933,1180 Q935,1194 946,1197" fill="none" stroke-width="1.0" />
<line x1="930" y1="1150" x2="944" y2="1143" stroke-width="2.0" />
<ellipse cx="1265" cy="1011.5" rx="10.5" ry="12.5" fill="#fff" stroke-width="1.3" transform="rotate(-15 1265 1011.5)" />
<ellipse cx="1261.7" cy="1013.2" rx="10.5" ry="12.5" fill="#fff" stroke-width="1.5" transform="rotate(-15 1261.7 1013.2)" />
<ellipse cx="1261.7" cy="1013.2" rx="5" ry="7" fill="none" stroke-width="1.3" transform="rotate(-15 1261.7 1013.2)" />
<ellipse cx="1262.5" cy="1012.8" rx="3" ry="4.5" fill="none" stroke-width="1.0" transform="rotate(-15 1262.5 1012.8)" />
<ellipse cx="1284.4" cy="1001.1" rx="6.3" ry="8.3" fill="none" stroke-width="1.5" transform="rotate(-15 1284.4 1001.1)" />
<ellipse cx="1322" cy="981" rx="24" ry="31" fill="#fff" stroke-width="1.3" transform="rotate(-18 1322 981)" />
<polygon points="1305,952 1327,950 1340,1010 1318,1016" fill="#fff" stroke="none"/>
<ellipse cx="1316" cy="985" rx="24" ry="31" fill="#fff" stroke-width="1.5" transform="rotate(-18 1316 985)" />
<ellipse cx="1316" cy="985" rx="21" ry="28" fill="none" stroke-width="0.9" transform="rotate(-18 1316 985)" />
<path d="M1316,954 L1333,948 L1336,951 L1330,956" fill="none" stroke-width="1.2"/>
<ellipse cx="1303.2" cy="973.3" rx="2.8" ry="3.8" fill="none" stroke-width="1.5" transform="rotate(-18 1303.2 973.3)" />
<ellipse cx="1319.8" cy="981.5" rx="2.8" ry="3.8" fill="none" stroke-width="1.5" transform="rotate(-18 1319.8 981.5)" />
<ellipse cx="1303.2" cy="994" rx="2.8" ry="3.8" fill="none" stroke-width="1.5" transform="rotate(-18 1303.2 994)" />
<ellipse cx="1319.8" cy="1001.2" rx="2.8" ry="3.8" fill="none" stroke-width="1.5" transform="rotate(-18 1319.8 1001.2)" />
<ellipse cx="1311.5" cy="987.7" rx="2.3" ry="3.2" fill="#333" stroke-width="1.5" transform="rotate(-18 1311.5 987.7)" />
<path d="M1346,905.5 L1403,937.5 Q1406,939.5 1406,943 L1406.5,968 L1415,975 L1407,981 L1406.7,1002 Q1406,1007 1401,1006 L1346,978 Q1342.6,976 1342.6,971 L1342.6,909 Q1343,904 1346,905.5 Z" fill="#fff" stroke-width="1.5" />
<ellipse cx="1374.7" cy="956.7" rx="27" ry="35" fill="none" stroke-width="1.3" transform="rotate(-22 1374.7 956.7)" />
<ellipse cx="1349.8" cy="913.2" rx="2.2" ry="2.9" fill="none" stroke-width="1.2" transform="rotate(-15 1349.8 913.2)" />
<ellipse cx="1400.5" cy="937" rx="2.2" ry="2.9" fill="none" stroke-width="1.2" transform="rotate(-15 1400.5 937)" />
<ellipse cx="1349.8" cy="972.2" rx="2.2" ry="2.9" fill="none" stroke-width="1.2" transform="rotate(-15 1349.8 972.2)" />
<ellipse cx="1400.5" cy="998.1" rx="2.2" ry="2.9" fill="none" stroke-width="1.2" transform="rotate(-15 1400.5 998.1)" />
<g transform="translate(1420.5,931.5) rotate(-27)">
<rect x="3" y="-2.6" width="11" height="5.2" rx="1" fill="#111" stroke-width="1"/>
<ellipse cx="0" cy="0" rx="4.2" ry="5.5" fill="#fff" stroke-width="1.6"/>
<line x1="-2" y1="-1" x2="2" y2="1" stroke-width="1"/>
</g>
<ellipse cx="1446.7" cy="919.4" rx="4" ry="6" fill="none" stroke-width="1.5" transform="rotate(-15 1446.7 919.4)" />
<ellipse cx="1554.5" cy="866" rx="4" ry="6" fill="none" stroke-width="1.5" transform="rotate(-15 1554.5 866)" />
<ellipse cx="1500.7" cy="891.9" rx="4" ry="6" fill="none" stroke-width="1.5" transform="rotate(-15 1500.7 891.9)" />
<line x1="1450.6" y1="895.6" x2="1500.9" y2="915.1" stroke-width="2.2" />
<path d="M1466,893 Q1476,888 1484,894 L1488,905 Q1490,916 1483,920 Q1474,923 1468,916 Q1462,907 1466,893 Z" fill="#fff" stroke-width="1.6" />
<ellipse cx="1474.5" cy="907" rx="5" ry="7" fill="none" stroke-width="1.3" transform="rotate(-20 1474.5 907)" />
<ellipse cx="1474.5" cy="907" rx="2.2" ry="3.2" fill="none" stroke-width="1.2" transform="rotate(-20 1474.5 907)" />
<path d="M1468,894 L1467,889 M1483,918 L1484,923 M1486,897 L1491,895 M1464,913 L1460,915" fill="none" stroke-width="1.6" />
<line x1="1455" y1="897.5" x2="1465" y2="901" stroke-width="2.2" />
<line x1="1487" y1="910" x2="1500.9" y2="915.1" stroke-width="2.2" />
<ellipse cx="1517.3" cy="883.6" rx="3.3" ry="5.8" fill="none" stroke-width="1.7" transform="rotate(-12 1517.3 883.6)" />
<ellipse cx="1524" cy="880.3" rx="3.3" ry="5.8" fill="none" stroke-width="1.7" transform="rotate(-12 1524 880.3)" />
<ellipse cx="1530.5" cy="877" rx="3.3" ry="5.8" fill="none" stroke-width="1.7" transform="rotate(-12 1530.5 877)" />
<ellipse cx="1537" cy="873.6" rx="3.3" ry="5.8" fill="none" stroke-width="1.7" transform="rotate(-12 1537 873.6)" />
<ellipse cx="1604.5" cy="841.5" rx="31" ry="39" fill="#fff" stroke-width="1.4" transform="rotate(-20 1604.5 841.5)" />
<polygon points="1581.5,810.5 1596.5,803.5 1618.5,883.5 1603.5,888.5" fill="#fff" stroke="none"/>
<line x1="1579.5" y1="811.5" x2="1593.5" y2="804.5" stroke-width="1.3" />
<line x1="1603.5" y1="884.5" x2="1616.5" y2="879.5" stroke-width="1.3" />
<ellipse cx="1600.5" cy="843.5" rx="31" ry="39" fill="none" stroke-width="1.0" transform="rotate(-20 1600.5 843.5)" />
<ellipse cx="1596.5" cy="845.5" rx="31" ry="39" fill="none" stroke-width="0.9" transform="rotate(-20 1596.5 845.5)" />
<ellipse cx="1591.5" cy="847.5" rx="31" ry="39" fill="#fff" stroke-width="1.6" transform="rotate(-20 1591.5 847.5)" />
<path d="M1566,828 Q1572,812 1588,808 L1606,811" fill="none" stroke-width="2.0" />
<ellipse cx="1594.5" cy="846.5" rx="20" ry="27" fill="none" stroke-width="1.2" transform="rotate(-20 1594.5 846.5)" />
<ellipse cx="1595" cy="846" rx="13" ry="17.5" fill="none" stroke-width="1.4" transform="rotate(-20 1595 846)" />
<ellipse cx="1595.5" cy="845.5" rx="7.5" ry="10.5" fill="none" stroke-width="1.6" transform="rotate(-20 1595.5 845.5)" />
<ellipse cx="1596.5" cy="844.5" rx="4.5" ry="7" fill="none" stroke-width="1.1" transform="rotate(-20 1596.5 844.5)" />
<path d="M1587,823 L1591,822 L1598,826 L1591,832 Z" fill="#fff" stroke-width="1.2" />
<path d="M1570,837 L1586,826" fill="none" stroke-width="2.4" />
<path d="M1560,836 L1563,828 L1572,830 L1568,840 Z" fill="#fff" stroke-width="1.3" />
<path d="M1604,860 L1610,858 L1614,867 L1606,872 Z" fill="#fff" stroke-width="1.3" />
<line x1="1612" y1="858" x2="1618" y2="870" stroke-width="2.2" />
<path d="M1568,861 L1573,860 L1578,868 L1572,872 Z" fill="#fff" stroke-width="1.3" />
<line x1="1605" y1="873" x2="1610" y2="880" stroke-width="1.8" />
<ellipse cx="1659" cy="814.3" rx="25.6" ry="33.6" fill="#fff" stroke-width="1.4" transform="rotate(-20 1659 814.3)" />
<ellipse cx="1658.8" cy="814.2" rx="23.9" ry="31.4" fill="none" stroke-width="0.95" transform="rotate(-20 1658.8 814.2)" />
<ellipse cx="1658.7" cy="814.1" rx="22.2" ry="29.2" fill="none" stroke-width="0.95" transform="rotate(-20 1658.7 814.1)" />
<ellipse cx="1658.5" cy="814" rx="20.5" ry="26.9" fill="none" stroke-width="0.95" transform="rotate(-20 1658.5 814)" />
<ellipse cx="1658.4" cy="813.9" rx="18.8" ry="24.7" fill="none" stroke-width="0.95" transform="rotate(-20 1658.4 813.9)" />
<ellipse cx="1658.2" cy="813.8" rx="17.2" ry="22.5" fill="none" stroke-width="0.95" transform="rotate(-20 1658.2 813.8)" />
<ellipse cx="1658.1" cy="813.7" rx="15.5" ry="20.3" fill="none" stroke-width="0.95" transform="rotate(-20 1658.1 813.7)" />
<ellipse cx="1658" cy="813.6" rx="13.8" ry="18.1" fill="none" stroke-width="0.95" transform="rotate(-20 1658 813.6)" />
<ellipse cx="1657.8" cy="813.5" rx="12.1" ry="15.9" fill="none" stroke-width="0.95" transform="rotate(-20 1657.8 813.5)" />
<ellipse cx="1657.7" cy="813.4" rx="10.4" ry="13.6" fill="none" stroke-width="0.95" transform="rotate(-20 1657.7 813.4)" />
<ellipse cx="1657.5" cy="813.3" rx="8.7" ry="11.4" fill="none" stroke-width="0.95" transform="rotate(-20 1657.5 813.3)" />
<ellipse cx="1657.5" cy="813" rx="6" ry="9.5" fill="#111" stroke-width="0" transform="rotate(-20 1657.5 813)" stroke="none"/>
<ellipse cx="1657.8" cy="813.3" rx="8.5" ry="12.5" fill="none" stroke-width="1.6" transform="rotate(-20 1657.8 813.3)" stroke="#222"/>
<line x1="1683" y1="828" x2="1688" y2="825" stroke-width="2.6" />
<path d="M1709,738 L1728.4,727.5 L1759.5,743.6 L1762.6,754.8 Q1766,762 1773.2,768.4 L1774.4,782 L1773.2,807 L1752.7,817 L1752,812 Z" fill="#fff" stroke-width="1.6" />
<polyline points="1744,757 1760,749" fill="none" stroke-width="1.2" />
<polyline points="1747,761 1762,754" fill="none" stroke-width="1.2" />
<polyline points="1754,775 1769.4,767.8" fill="none" stroke-width="1.2" />
<polyline points="1754,780 1771,772" fill="none" stroke-width="1.2" />
<polyline points="1754,797 1770,790" fill="none" stroke-width="1.2" />
<polyline points="1755,806 1772,798" fill="none" stroke-width="2.0" />
<path d="M1692,733 Q1686,735 1686.5,741 L1686,800 Q1687,805 1692,808 L1742,836 Q1748,838 1751.5,834 L1753.9,769 Q1753.5,764 1749,761 L1699,733 Q1695,731 1692,733 Z" fill="#fff" stroke-width="1.7" />
<path d="M1694,739 Q1691,740 1691,744 L1690.5,798 Q1691,802 1695,804 L1741,829 Q1745,830 1746.5,826 L1748.5,771 Q1748,767 1745,765.5 L1699,739.5 Q1696,738 1694,739 Z" fill="none" stroke-width="1.3" />
<polyline points="1714.8,748 1714.8,775.9 1692.4,786.5" fill="none" stroke-width="1.5" />
<path d="M1714.8,775.9 Q1724,785 1727.8,798.3 L1706.7,808.8" fill="none" stroke-width="1.5" />
<polyline points="1727.8,798.3 1746.5,807.6" fill="none" stroke-width="1.5" />
<path d="M1692.5,788 Q1703,796 1706,808" fill="none" stroke-width="1.4" />
<path d="M1696,747 Q1700,752 1708,745" fill="none" stroke-width="1.3" />
<path d="M1738,826 Q1736,818 1745,814" fill="none" stroke-width="1.3" />
<g transform="translate(1733,777.5) rotate(-25)"><rect x="0" y="-3.8" width="12" height="7.6" fill="#fff" stroke-width="1.3"/><ellipse cx="0" cy="0" rx="2.6" ry="3.8" fill="#fff" stroke-width="1.3"/><circle cx="0" cy="0" r="0.6" fill="#111"/></g>
<ellipse cx="1694.3" cy="743.6" rx="2" ry="2.6" fill="none" stroke-width="1.2" />
<ellipse cx="1741.5" cy="767.2" rx="2" ry="2.6" fill="none" stroke-width="1.2" />
<ellipse cx="1691.8" cy="802" rx="2" ry="2.6" fill="none" stroke-width="1.2" />
<ellipse cx="1741.5" cy="828.7" rx="2" ry="2.6" fill="none" stroke-width="1.2" />
<ellipse cx="1773.8" cy="787.7" rx="5.5" ry="7" fill="#fff" stroke-width="1.6" transform="rotate(-15 1773.8 787.7)" />
<ellipse cx="1774.3" cy="787.5" rx="3.3" ry="4.5" fill="none" stroke-width="1.2" transform="rotate(-15 1774.3 787.5)" />
<path d="M1765,787 Q1764,794 1770,795" fill="none" stroke-width="1.0" />
<path d="M1778,784 C1786,779 1795,783 1795,792 C1795,803 1785,812 1782,824 C1779,838 1780,851 1786,857 C1792,862 1800,861 1807,867 C1813,872 1823,869 1829,862 C1833,857 1832,851 1838,846" fill="none" stroke-width="1.3" />
<g transform="translate(1837,845) rotate(-8)"><rect x="0" y="-4.5" width="13" height="9" rx="2" fill="#fff" stroke-width="1.4"/><ellipse cx="0" cy="0" rx="2.8" ry="4.5" fill="#fff" stroke-width="1.4"/><line x1="4" y1="-4.5" x2="4" y2="4.5" stroke-width="1"/></g>
<path d="M1831,800 Q1832,795 1838,796.5 Q1845,801 1851,810 Q1862,826 1872,842 Q1879,852 1879,857 Q1878,862 1871,863.5 Q1866,864 1863,859 Q1855,845 1849,834 Q1841,819 1834,808 Q1830,804 1831,800 Z" fill="#fff" stroke-width="1.7" />
<path d="M1836,801 Q1843,806 1849,815 Q1858,829 1868,846 Q1873,853 1873,858" fill="none" stroke-width="1.1" />
<rect x="1841.5" y="806.5" width="5" height="7" fill="#333" stroke="none" transform="rotate(-32 1844 810)"/>
<rect x="1849.5" y="818.5" width="5" height="7" fill="#333" stroke="none" transform="rotate(-32 1852 822)"/>
<rect x="1857.5" y="831.5" width="5" height="7" fill="#333" stroke="none" transform="rotate(-32 1860 835)"/>
<rect x="1864.5" y="844.5" width="5" height="7" fill="#333" stroke="none" transform="rotate(-32 1867 848)"/>
<g transform="translate(1818,680) rotate(150.9)"><rect x="5" y="-2.5" width="15.6" height="5" rx="1.2" fill="#111" stroke-width="1.1"/><rect x="0" y="-3.8" width="5" height="7.6" rx="1.5" fill="#fff" stroke-width="1.1"/><ellipse cx="0.8" cy="0" rx="2.3" ry="3.8" fill="#fff" stroke-width="1.1"/><ellipse cx="0.8" cy="0" rx="1.1" ry="1.9" fill="none" stroke-width="0.8"/></g>
<g transform="translate(1815.5,741) rotate(153.8)"><rect x="5" y="-2.5" width="15.6" height="5" rx="1.2" fill="#111" stroke-width="1.1"/><rect x="0" y="-3.8" width="5" height="7.6" rx="1.5" fill="#fff" stroke-width="1.1"/><ellipse cx="0.8" cy="0" rx="2.3" ry="3.8" fill="#fff" stroke-width="1.1"/><ellipse cx="0.8" cy="0" rx="1.1" ry="1.9" fill="none" stroke-width="0.8"/></g>
<g transform="translate(1864.5,705.6) rotate(156.5)"><rect x="5" y="-2.5" width="15.8" height="5" rx="1.2" fill="#111" stroke-width="1.1"/><rect x="0" y="-3.8" width="5" height="7.6" rx="1.5" fill="#fff" stroke-width="1.1"/><ellipse cx="0.8" cy="0" rx="2.3" ry="3.8" fill="#fff" stroke-width="1.1"/><ellipse cx="0.8" cy="0" rx="1.1" ry="1.9" fill="none" stroke-width="0.8"/></g>
<g transform="translate(1864.5,765.6) rotate(150)"><rect x="5" y="-2.5" width="15.8" height="5" rx="1.2" fill="#111" stroke-width="1.1"/><rect x="0" y="-3.8" width="5" height="7.6" rx="1.5" fill="#fff" stroke-width="1.1"/><ellipse cx="0.8" cy="0" rx="2.3" ry="3.8" fill="#fff" stroke-width="1.1"/><ellipse cx="0.8" cy="0" rx="1.1" ry="1.9" fill="none" stroke-width="0.8"/></g>
<polygon points="1718.6,709.7 1894.6,819.5 1894.6,888.8 1802.5,888.8 1715.5,843.3 1437.8,985.7 1384,885.3" fill="none" stroke="#6a6a6a" stroke-width="1.3" stroke-dasharray="5.5 3.5" stroke-linecap="butt"/>
<path d="M1309,1110 L1331,1101.5 Q1334,1101 1335,1104 L1338.5,1117 Q1339,1120 1336,1121 L1314,1129.5 Q1311,1130 1310.5,1127 L1307,1113 Q1307,1111 1309,1110 Z" fill="#fff" stroke-width="1.4" />
<path d="M1313,1114 L1330,1107 L1333,1117 L1316,1124 Z" fill="none" stroke-width="1.1" />
<ellipse cx="1310.5" cy="1111.5" rx="1.5" ry="1.8" fill="none" stroke-width="1.0" />
<ellipse cx="1333" cy="1118" rx="1.5" ry="1.8" fill="none" stroke-width="1.0" />
<ellipse cx="1321.5" cy="1124.5" rx="1.5" ry="1.5" fill="#111" stroke-width="0" stroke="none"/>
<path d="M1340,1121 L1376,1105.5 Q1379.5,1105 1379.6,1108 L1380.5,1140 L1339,1160.5 Q1337,1160 1337,1157 L1337,1125 Q1337,1122 1340,1121 Z" fill="#fff" stroke-width="1.4" />
<line x1="1338.5" y1="1126" x2="1338.5" y2="1160" stroke-width="1.0" />
<path d="M1345,1131 L1366,1119 Q1372,1117 1377,1121 L1385,1128 Q1389,1133 1386,1139 L1378,1151 Q1374,1155 1368,1154 L1352,1150 Q1346,1148 1344,1142 Z" fill="#fff" stroke-width="1.4" />
<ellipse cx="1375.5" cy="1141" rx="6.5" ry="8" fill="#fff" stroke-width="1.4" transform="rotate(-20 1375.5 1141)" />
<ellipse cx="1376" cy="1141" rx="4.5" ry="6" fill="none" stroke-width="1.0" transform="rotate(-20 1376 1141)" />
<ellipse cx="1350" cy="1132" rx="3" ry="3.5" fill="none" stroke-width="1.1" />
<ellipse cx="1385" cy="1131" rx="2.4" ry="3" fill="none" stroke-width="1.1" />
<ellipse cx="1372" cy="1153" rx="2.4" ry="3" fill="none" stroke-width="1.1" />
<path d="M1346,1140 L1362,1147 Q1365,1150 1362,1153" fill="none" stroke-width="1.1" />
<ellipse cx="1362" cy="1150.5" rx="3" ry="3.5" fill="#fff" stroke-width="1.2" />
<g transform="translate(1407.5,1158.5) rotate(-156.3)"><rect x="5.5" y="-2.5" width="20.6" height="5" rx="1.2" fill="#111" stroke-width="1.1"/><rect x="0" y="-4" width="5.5" height="8" rx="1.5" fill="#fff" stroke-width="1.1"/><ellipse cx="0.8" cy="0" rx="2.4" ry="4" fill="#fff" stroke-width="1.1"/><ellipse cx="0.8" cy="0" rx="1.2" ry="2" fill="none" stroke-width="0.8"/></g>
<g transform="translate(1440.5,1165) rotate(-156.5)"><rect x="5.5" y="-2.5" width="21.5" height="5" rx="1.2" fill="#111" stroke-width="1.1"/><rect x="0" y="-4" width="5.5" height="8" rx="1.5" fill="#fff" stroke-width="1.1"/><ellipse cx="0.8" cy="0" rx="2.4" ry="4" fill="#fff" stroke-width="1.1"/><ellipse cx="0.8" cy="0" rx="1.2" ry="2" fill="none" stroke-width="0.8"/></g>
<path d="M1439,1172.5 L1475,1155 Q1477,1154.5 1477.2,1157 L1477.8,1189 Q1477.8,1191 1476,1191.5 L1438.5,1210.5 Q1436.4,1211 1436.4,1208.5 L1436.4,1175 Q1436.5,1173.5 1439,1172.5 Z" fill="#fff" stroke-width="1.4" />
<ellipse cx="1456" cy="1182.2" rx="5.2" ry="6.7" fill="none" stroke-width="1.3" transform="rotate(-15 1456 1182.2)" />
<ellipse cx="1444.5" cy="1189" rx="1.7" ry="2.2" fill="none" stroke-width="1.1" />
<ellipse cx="1469.5" cy="1176.5" rx="1.7" ry="2.2" fill="none" stroke-width="1.1" />
<ellipse cx="1455.5" cy="1197" rx="1.4" ry="1.7" fill="#111" stroke-width="0" stroke="none"/>
<path d="M1480.5,1208 L1482,1203 L1485,1198 L1482,1191 L1484,1186 L1490,1186 L1497,1182 L1505,1180 L1512,1179 L1520,1177 L1526,1176 L1528,1180 L1526,1186 L1525,1195 L1531,1200 L1533,1205 L1530,1212 L1530,1225 L1529,1240 L1525,1242 L1512,1247.5 L1510,1253 Q1506,1256 1501,1254 L1499,1250 L1484,1242 L1484,1226 L1482,1226 Z" fill="#fff" stroke-width="1.6" />
<polyline points="1484,1226 1502.6,1234.5 1529.5,1222" fill="none" stroke-width="1.3" />
<polyline points="1484,1233 1502.6,1242 1529,1231" fill="none" stroke-width="1.1" />
<polyline points="1502.6,1218 1502.6,1250" fill="none" stroke-width="2.0" />
<polyline points="1505,1219 1505,1250" fill="none" stroke-width="0.9" />
<polyline points="1482,1208 1500,1216 1508,1213 1531,1203" fill="none" stroke-width="1.2" />
<polyline points="1487,1209 1487,1226" fill="none" stroke-width="1.1" />
<polyline points="1491,1209 1491,1226" fill="none" stroke-width="2.0" stroke="#777"/>
<path d="M1493,1209 Q1496,1214 1500,1216 L1500,1228 L1493,1225 Z" fill="none" stroke-width="1.1" />
<ellipse cx="1518" cy="1212" rx="8" ry="11" fill="#fff" stroke-width="1.8" transform="rotate(22 1518 1212)" />
<ellipse cx="1518" cy="1212" rx="5.6" ry="8.4" fill="none" stroke-width="1.4" transform="rotate(22 1518 1212)" />
<line x1="1517" y1="1205" x2="1519" y2="1219" stroke-width="1.3" />
<ellipse cx="1532" cy="1204" rx="2.5" ry="3" fill="#fff" stroke-width="1.3" />
<polyline points="1484,1190 1497,1196 1505,1193 1520,1186" fill="none" stroke-width="1.2" />
<polyline points="1490,1195 1493,1202 1500,1207" fill="none" stroke-width="1.2" />
<ellipse cx="1506" cy="1184.5" rx="3.2" ry="2.8" fill="#111" stroke-width="0" stroke="none"/>
<ellipse cx="1509" cy="1197.5" rx="3.2" ry="2.5" fill="#111" stroke-width="0" stroke="none"/>
<polyline points="1516,1180 1523,1178" fill="none" stroke-width="1.4" />
<ellipse cx="1527" cy="1176.5" rx="1.8" ry="1.8" fill="#111" stroke-width="0" stroke="none"/>
<path d="M1499,1250 Q1501,1256 1507,1256 Q1513,1255 1512,1248" fill="none" stroke-width="1.2" />
<path d="M1540,1203 L1585,1187 Q1592,1185 1596,1188 L1602,1192 Q1606,1196 1606,1202 L1606,1245 Q1605,1256 1598,1260 L1580,1272 Q1575,1278 1570,1284 Q1560,1290 1550,1289 L1543,1286 Q1536,1282 1536,1274 L1536,1210 Q1536,1205 1540,1203 Z" fill="#fff" stroke-width="1.6" />
<path d="M1545,1211 L1588,1194 Q1596,1193 1597,1199 L1598,1243 Q1597,1250 1590,1254 L1566,1270 Q1556,1280 1548,1278 Q1543,1276 1543,1270 L1543,1216 Q1543,1212 1545,1211 Z" fill="none" stroke-width="1.2" />
<path d="M1550,1217 L1588,1201 L1590,1243 L1565,1262 L1551,1268 Z" fill="none" stroke-width="1.0" />
<ellipse cx="1573" cy="1236" rx="9" ry="6" fill="#fff" stroke-width="1.4" transform="rotate(-40 1573 1236)" />
<ellipse cx="1573" cy="1236" rx="5" ry="3" fill="none" stroke-width="1.0" transform="rotate(-40 1573 1236)" />
<ellipse cx="1582" cy="1226" rx="3" ry="3.5" fill="none" stroke-width="1.2" />
<line x1="1555" y1="1223" x2="1568" y2="1219" stroke-width="1.5" />
<line x1="1580" y1="1207" x2="1590" y2="1210" stroke-width="1.5" />
<line x1="1556" y1="1250" x2="1566" y2="1256" stroke-width="1.5" />
<line x1="1582" y1="1244" x2="1590" y2="1248" stroke-width="1.5" />
<line x1="1565" y1="1262" x2="1572" y2="1268" stroke-width="1.5" />
<line x1="1606" y1="1200" x2="1609" y2="1220" stroke-width="1.1" />
<ellipse cx="1625" cy="1260.5" rx="27" ry="32.5" fill="#fff" stroke-width="1.4" transform="rotate(18 1625 1260.5)" />
<polygon points="1609,1243 1623,1233 1648,1272 1633,1293" fill="#fff" stroke="none"/>
<line x1="1615.5" y1="1233.5" x2="1623" y2="1237" stroke-width="1.4" />
<line x1="1627" y1="1292" x2="1634" y2="1296" stroke-width="1.4" />
<ellipse cx="1632" cy="1264.6" rx="27" ry="32.5" fill="#fff" stroke-width="1.7" transform="rotate(18 1632 1264.6)" />
<ellipse cx="1632.5" cy="1264.6" rx="24" ry="29.5" fill="none" stroke-width="1.3" transform="rotate(18 1632.5 1264.6)" />
<ellipse cx="1633" cy="1264.6" rx="22.3" ry="27.8" fill="none" stroke-width="1.0" transform="rotate(18 1633 1264.6)" />
<g transform="translate(1752.2,1314.3) rotate(-155.6)"><rect x="6" y="-2.3" width="44.1" height="4.6" rx="1.2" fill="#111" stroke-width="1.1"/><rect x="0" y="-4" width="6" height="8" rx="1.5" fill="#fff" stroke-width="1.1"/><ellipse cx="0.8" cy="0" rx="2.4" ry="4" fill="#fff" stroke-width="1.1"/><ellipse cx="0.8" cy="0" rx="1.2" ry="2" fill="none" stroke-width="0.8"/></g>
<g transform="translate(1721.1,1327.7) rotate(-155.5)"><rect x="6" y="-2.3" width="44" height="4.6" rx="1.2" fill="#111" stroke-width="1.1"/><rect x="0" y="-4" width="6" height="8" rx="1.5" fill="#fff" stroke-width="1.1"/><ellipse cx="0.8" cy="0" rx="2.4" ry="4" fill="#fff" stroke-width="1.1"/><ellipse cx="0.8" cy="0" rx="1.2" ry="2" fill="none" stroke-width="0.8"/></g>
<polygon points="1775,1318 1781,1313 1828,1297 1834,1297 1862,1318 1866,1326 1867,1375.4 1856.7,1387.8 1855.7,1402.3 1809,1415.7 1803,1416 1776,1410.6 1776,1385.7 1768.7,1369.2 1768.7,1350 1771,1348 1786,1350 1790,1347 1789.4,1339 1773,1331 1771,1325" fill="#fff" stroke-width="1.5" />
<polyline points="1779,1318 1800,1330 1806,1334 1862,1317" fill="none" stroke-width="1.1" />
<polyline points="1806,1334 1803,1340 1803,1416" fill="none" stroke-width="1.1" />
<polyline points="1808,1337 1864,1320" fill="none" stroke-width="1.0" />
<polyline points="1810,1338 1812,1415" fill="none" stroke-width="1.0" />
<polyline points="1812,1356 1864,1340" fill="none" stroke-width="1.0" />
<polyline points="1804,1383 1865,1366" fill="none" stroke-width="1.0" />
<polyline points="1804,1388 1856,1375" fill="none" stroke-width="0.9" />
<path d="M1829,1410 L1829,1382 Q1830,1364 1844,1360 Q1856,1360 1858,1375 L1857,1400" fill="none" stroke-width="1.3" />
<path d="M1833,1409 L1833,1384 Q1834,1370 1844,1367 Q1853,1367 1854,1378 L1854,1402" fill="none" stroke-width="1.1" />
<ellipse cx="1843" cy="1378" rx="6" ry="7" fill="none" stroke-width="1.2" />
<ellipse cx="1841" cy="1377" rx="2" ry="2.5" fill="none" stroke-width="1.1" />
<g transform="translate(1904,1409) rotate(205)">
<rect x="3" y="-2.5" width="12" height="5" rx="1" fill="#111" stroke-width="1"/>
<ellipse cx="0" cy="0" rx="3.5" ry="6" fill="#fff" stroke-width="1.4"/>
<rect x="-3" y="-8" width="4" height="16" rx="1.5" fill="#fff" stroke-width="1.3"/>
</g>
<path d="M467,1179 C474,1150 490,1128 512,1110 C535,1092 555,1086 575,1082" fill="none" stroke-width="1.3" />
<path d="M469.5,1180 C476.5,1151 492,1130 514,1112.5 C536,1095 556,1089 575,1085" fill="none" stroke-width="0.9" />
<path d="M575,1080.5 L587,1077.5 Q590,1079 589.5,1082 L577,1085.5 Z" fill="#fff" stroke-width="1.2" />
<path d="M485,1147.5 L561,1119" fill="none" stroke-width="1.2" />
<path d="M486,1150 L562,1121.5" fill="none" stroke-width="0.8" />
<g transform="translate(561,1119.5) rotate(-20)"><rect x="0" y="-2.6" width="20" height="5.2" fill="#fff" stroke-width="1.1"/></g>
<path d="M580,1113 Q592,1104 605,1099" fill="none" stroke-width="1.1" />
<path d="M604,1098 L612,1094 L614.5,1097 L607,1101 Z" fill="#fff" stroke-width="1.2" />
<path d="M483,1160 Q484,1156 490,1155 L528.7,1150.2 L528.7,1155.7 L492,1163 L494,1188 L487,1189 L484,1163 Z" fill="#fff" stroke-width="1.3" />
<path d="M527.6,1144.8 L551.5,1128.5 L559.1,1141.5 Q555,1150 545,1157 L528.7,1164.3 Q523,1158 524,1152 Z" fill="#fff" stroke-width="1.4" />
<path d="M531,1150 L556,1135" fill="none" stroke-width="1.0" />
<path d="M532,1160 Q534,1152 530,1146" fill="none" stroke-width="1.0" />
<ellipse cx="524.5" cy="1150" rx="4.5" ry="5.5" fill="#fff" stroke-width="1.4" />
<path d="M444.5,1179.6 Q445,1175 449,1174 L452.6,1173 Q455,1172 458,1173.5 L480.9,1185 L491.7,1195 Q496,1198 496.1,1204 L496.1,1223 L500.4,1232.8 Q501,1238 496.1,1240.4 L490.7,1241.5 L480.9,1231.7 L469,1229.6 Q460,1229 454.8,1222 L443.9,1218.7 L438.5,1210 L437.4,1205.7 L443.9,1202.4 Z" fill="#fff" stroke-width="1.5" />
<path d="M448.3,1179 L448.3,1216" fill="none" stroke-width="1.6" />
<path d="M452,1182 L452,1218" fill="none" stroke-width="1.0" />
<path d="M452,1180 L461,1183 L461,1190" fill="none" stroke-width="1.0" />
<path d="M461.3,1182.8 L466,1178 L474,1182 L474.3,1190.4" fill="#fff" stroke-width="1.3" />
<path d="M461.3,1182.8 L474.3,1190.4" fill="none" stroke-width="1.0" />
<path d="M454.8,1192 Q465,1198 479.8,1199" fill="none" stroke-width="1.3" />
<path d="M454.8,1192 L454.8,1222" fill="none" stroke-width="1.2" />
<path d="M479.8,1199 L479.8,1229.6" fill="none" stroke-width="1.3" />
<path d="M474.3,1190.4 L487.4,1197 L487.4,1223 L496,1223" fill="none" stroke-width="1.2" />
<path d="M480.9,1231.7 L486,1226 L496,1226" fill="none" stroke-width="1.0" />
<ellipse cx="492.8" cy="1235" rx="2.6" ry="3.2" fill="none" stroke-width="1.4" />
<path d="M438.5,1210 L444,1207 L448.5,1212" fill="none" stroke-width="1.1" />
<ellipse cx="440.8" cy="1208.5" rx="1.5" ry="2" fill="none" stroke-width="1.0" />
<g transform="translate(397,1235) rotate(-29)"><rect x="6" y="-2.5" width="19.6" height="5" rx="1.2" fill="#111" stroke-width="1.1"/><rect x="0" y="-4.2" width="6" height="8.5" rx="1.5" fill="#fff" stroke-width="1.1"/><ellipse cx="0.8" cy="0" rx="2.5" ry="4.2" fill="#fff" stroke-width="1.1"/><ellipse cx="0.8" cy="0" rx="1.3" ry="2.1" fill="none" stroke-width="0.8"/></g>
<g transform="translate(438.5,1259) rotate(-26.4)"><rect x="6" y="-2.5" width="20.1" height="5" rx="1.2" fill="#111" stroke-width="1.1"/><rect x="0" y="-4.2" width="6" height="8.5" rx="1.5" fill="#fff" stroke-width="1.1"/><ellipse cx="0.8" cy="0" rx="2.5" ry="4.2" fill="#fff" stroke-width="1.1"/><ellipse cx="0.8" cy="0" rx="1.3" ry="2.1" fill="none" stroke-width="0.8"/></g>
<line x1="420" y1="1222" x2="438" y2="1213" class="ax"/>
<line x1="462" y1="1247" x2="484" y2="1237" class="ax"/>
<ellipse cx="547.5" cy="1369" rx="42" ry="59" fill="#fff" stroke-width="1.3" transform="rotate(-17 547.5 1369)" />
<polygon points="499.5,1334 519.5,1319 575.5,1417 552.5,1431" fill="#fff" stroke="none"/>
<line x1="505.5" y1="1330" x2="525.5" y2="1318" stroke-width="1.3" />
<path d="M548,1325.5 L562,1314 Q566,1315 564,1320 L548,1331 Z" fill="#fff" stroke-width="1.3" />
<line x1="550" y1="1328" x2="562" y2="1317.5" stroke-width="0.9" />
<path d="M556,1338.5 L576.7,1331 Q580.7,1332 578.7,1337 L556,1344 Z" fill="#fff" stroke-width="1.3" />
<line x1="558" y1="1341" x2="576.7" y2="1334.5" stroke-width="0.9" />
<path d="M563,1354.5 L588,1351.4 Q592,1352.4 590,1357.4 L563,1360 Z" fill="#fff" stroke-width="1.3" />
<line x1="565" y1="1357" x2="588" y2="1354.9" stroke-width="0.9" />
<path d="M567,1371.5 L593,1373 Q597,1374 595,1379 L567,1377 Z" fill="#fff" stroke-width="1.3" />
<line x1="569" y1="1374" x2="593" y2="1376.5" stroke-width="0.9" />
<path d="M568,1388.5 L592,1392.6 Q596,1393.6 594,1398.6 L568,1394 Z" fill="#fff" stroke-width="1.3" />
<line x1="570" y1="1391" x2="592" y2="1396.1" stroke-width="0.9" />
<path d="M565,1404.5 L588,1405 Q592,1406 590,1411 L565,1410 Z" fill="#fff" stroke-width="1.3" />
<line x1="567" y1="1407" x2="588" y2="1408.5" stroke-width="0.9" />
<path d="M560,1417.5 L581,1418 Q585,1419 583,1424 L560,1423 Z" fill="#fff" stroke-width="1.3" />
<line x1="562" y1="1420" x2="581" y2="1421.5" stroke-width="0.9" />
<ellipse cx="527.5" cy="1379" rx="42" ry="59" fill="#fff" stroke-width="1.7" transform="rotate(-17 527.5 1379)" />
<ellipse cx="528.5" cy="1379" rx="37" ry="53.5" fill="none" stroke-width="1.3" transform="rotate(-17 528.5 1379)" />
<ellipse cx="527.5" cy="1376" rx="17.5" ry="24.5" fill="none" stroke-width="1.4" transform="rotate(-17 527.5 1376)" />
<ellipse cx="527.5" cy="1376" rx="15" ry="22" fill="none" stroke-width="1.0" transform="rotate(-17 527.5 1376)" />
<line x1="509.3" y1="1372.8" x2="488.9" y2="1371.7" stroke-width="1.2" />
<line x1="511.8" y1="1373.8" x2="491.4" y2="1371.7" stroke-width="0.9" />
<line x1="513.9" y1="1356.9" x2="498.4" y2="1337.2" stroke-width="1.2" />
<line x1="516.4" y1="1357.9" x2="500.9" y2="1337.2" stroke-width="0.9" />
<line x1="526.5" y1="1352.2" x2="524.9" y2="1327.2" stroke-width="1.2" />
<line x1="529" y1="1353.2" x2="527.4" y2="1327.2" stroke-width="0.9" />
<line x1="539.6" y1="1361.5" x2="553" y2="1347.6" stroke-width="1.2" />
<line x1="542.1" y1="1362.5" x2="555.5" y2="1347.6" stroke-width="0.9" />
<line x1="545.7" y1="1379.2" x2="566.1" y2="1386.3" stroke-width="1.2" />
<line x1="548.2" y1="1380.2" x2="568.6" y2="1386.3" stroke-width="0.9" />
<line x1="541.1" y1="1395.1" x2="556.6" y2="1420.8" stroke-width="1.2" />
<line x1="543.6" y1="1396.1" x2="559.1" y2="1420.8" stroke-width="0.9" />
<line x1="528.5" y1="1399.8" x2="530.1" y2="1430.8" stroke-width="1.2" />
<line x1="531" y1="1400.8" x2="532.6" y2="1430.8" stroke-width="0.9" />
<line x1="515.4" y1="1390.5" x2="502" y2="1410.4" stroke-width="1.2" />
<line x1="517.9" y1="1391.5" x2="504.5" y2="1410.4" stroke-width="0.9" />
<path d="M503,1369 L518,1366 Q524,1368 522,1374 L506,1383 Z" fill="#fff" stroke-width="1.2" />
<ellipse cx="503.4" cy="1375.4" rx="6" ry="7.2" fill="#fff" stroke-width="1.4" transform="rotate(-10 503.4 1375.4)" />
<ellipse cx="503.4" cy="1375.4" rx="2.8" ry="3.4" fill="none" stroke-width="1.1" transform="rotate(-10 503.4 1375.4)" />
<ellipse cx="540.7" cy="1381.6" rx="6" ry="7.2" fill="#fff" stroke-width="1.4" transform="rotate(-10 540.7 1381.6)" />
<ellipse cx="540.7" cy="1381.6" rx="2.8" ry="3.4" fill="none" stroke-width="1.1" transform="rotate(-10 540.7 1381.6)" />
<polygon points="479.9,1404 475.7,1410.1 469.3,1408.7 467.1,1401.2 471.3,1395.1 477.7,1396.5" fill="#fff" stroke-width="1.6" />
<ellipse cx="473.5" cy="1402.6" rx="3.3" ry="4.3" fill="none" stroke-width="1.3" />
<path d="M717.4,1229.7 L714.1,1213.1 L716.6,1201.5 L729,1195.7 L739,1193.2 L754.7,1185.4 Q759,1185 760,1190 L781.2,1189.1 L786.1,1189.1 L789,1198 L801.9,1209 L812,1207 L824,1212 L828.3,1218 L826,1224 L833,1232 L840.8,1242 L838,1250 L835,1262.8 Q836,1285 833.3,1300 Q828,1316 820,1324 L821,1332 L808.5,1336 L803,1328 Q780,1327 763,1316.6 Q745,1306 734,1291.8 Q724,1280 721.6,1266.9 Q718,1248 717.4,1229.7 Z" fill="#fff" stroke-width="1.6" />
<path d="M731,1212 Q726,1230 730.7,1252 Q734,1275 748,1293 Q768,1312 796,1316 Q815,1314 822.5,1296 Q826,1275 822.5,1252 Q818,1232 806,1222" fill="none" stroke-width="1.3" />
<path d="M734,1214 Q729,1232 733.5,1252 Q737,1272 750,1289 Q769,1307 795,1311 Q812,1309 818.5,1294 Q822,1275 819,1254" fill="none" stroke-width="1.0" />
<path d="M736.5,1218.9 L740,1214 L744,1216 L748,1211 L753,1207.3 L773.7,1224.7 L766.3,1229.7 L739.8,1240.4 Z" fill="none" stroke-width="1.4" />
<path d="M739.8,1242 L754.7,1237 L758,1258.6 L742.3,1262 Z" fill="none" stroke-width="1.3" />
<path d="M752,1276.9 L771.2,1262.8 L778,1268 Q790,1290 800,1300 L804,1297 Q808,1302 806,1306 Q790,1307 770,1297 Q757,1289 752,1276.9 Z" fill="none" stroke-width="1.4" />
<path d="M806,1260 Q815,1266 816,1280 L816,1292 L808,1296 L800,1268 Z" fill="none" stroke-width="1.2" />
<line x1="773.7" y1="1262.8" x2="754.7" y2="1283.5" stroke-width="1.2" />
<line x1="793" y1="1266" x2="808.5" y2="1290" stroke-width="1.3" />
<line x1="797" y1="1264" x2="812" y2="1287" stroke-width="1.0" />
<line x1="740" y1="1240" x2="770" y2="1228" stroke-width="1.5" />
<ellipse cx="782" cy="1247" rx="15.1" ry="19.9" fill="#fff" stroke-width="1.6" transform="rotate(-20 782 1247)" />
<ellipse cx="782" cy="1247" rx="13" ry="17.5" fill="none" stroke-width="1.0" transform="rotate(-20 782 1247)" />
<ellipse cx="783.5" cy="1246" rx="10" ry="14.5" fill="none" stroke-width="1.3" transform="rotate(-20 783.5 1246)" />
<path d="M777,1236 Q785,1242 787,1258" fill="none" stroke-width="1.0" />
<path d="M781,1234 Q789,1241 790,1256" fill="none" stroke-width="1.0" />
<path d="M786,1213 L801,1207 L806,1214 L800,1230 L795,1232" fill="none" stroke-width="1.2" />
<path d="M802,1232 L828,1220" fill="none" stroke-width="1.2" />
<path d="M821,1250 L838,1245" fill="none" stroke-width="1.2" />
<path d="M723,1265 L736,1258 L738,1267 L725,1274" fill="none" stroke-width="1.2" />
<ellipse cx="720.5" cy="1206" rx="1.9" ry="2.5" fill="none" stroke-width="1.1" />
<ellipse cx="717" cy="1212.5" rx="1.9" ry="2.5" fill="none" stroke-width="1.1" />
<ellipse cx="742.5" cy="1197" rx="1.9" ry="2.5" fill="none" stroke-width="1.1" />
<ellipse cx="788.5" cy="1219.5" rx="1.9" ry="2.5" fill="none" stroke-width="1.1" />
<ellipse cx="824.5" cy="1243" rx="1.9" ry="2.5" fill="none" stroke-width="1.1" />
<ellipse cx="733.5" cy="1291.5" rx="1.9" ry="2.5" fill="none" stroke-width="1.1" />
<ellipse cx="810" cy="1330" rx="1.9" ry="2.5" fill="none" stroke-width="1.1" />
<ellipse cx="808" cy="1317" rx="1.9" ry="2.5" fill="none" stroke-width="1.1" />
<path d="M808,1318 L815,1313 L820,1322" fill="none" stroke-width="1.1" />
<ellipse cx="692" cy="1293" rx="13.5" ry="16" fill="#fff" stroke-width="1.3" transform="rotate(-8 692 1293)" />
<ellipse cx="688.8" cy="1295" rx="13.5" ry="16" fill="#fff" stroke-width="1.5" transform="rotate(-8 688.8 1295)" />
<ellipse cx="688.8" cy="1295" rx="5.5" ry="8" fill="none" stroke-width="1.3" transform="rotate(-8 688.8 1295)" />
<g transform="translate(600.8,1297) rotate(-26.6)"><rect x="6" y="-2.4" width="6.6" height="4.8" fill="#fff" stroke-width="1.1"/><rect x="12.6" y="-2.4" width="19.8" height="4.8" rx="1.2" fill="#111" stroke-width="1.1"/><rect x="0" y="-4.2" width="6" height="8.5" rx="1.5" fill="#fff" stroke-width="1.1"/><ellipse cx="0.8" cy="0" rx="2.5" ry="4.2" fill="#fff" stroke-width="1.1"/><ellipse cx="0.8" cy="0" rx="1.3" ry="2.1" fill="none" stroke-width="0.8"/></g>
<g transform="translate(588.4,1332.2) rotate(-26.6)"><rect x="6" y="-2.4" width="6.6" height="4.8" fill="#fff" stroke-width="1.1"/><rect x="12.6" y="-2.4" width="19.8" height="4.8" rx="1.2" fill="#111" stroke-width="1.1"/><rect x="0" y="-4.2" width="6" height="8.5" rx="1.5" fill="#fff" stroke-width="1.1"/><ellipse cx="0.8" cy="0" rx="2.5" ry="4.2" fill="#fff" stroke-width="1.1"/><ellipse cx="0.8" cy="0" rx="1.3" ry="2.1" fill="none" stroke-width="0.8"/></g>
<g transform="translate(651.5,1331.2) rotate(-27.4)"><rect x="6" y="-2.4" width="6.4" height="4.8" fill="#fff" stroke-width="1.1"/><rect x="12.4" y="-2.4" width="19.1" height="4.8" rx="1.2" fill="#111" stroke-width="1.1"/><rect x="0" y="-4.2" width="6" height="8.5" rx="1.5" fill="#fff" stroke-width="1.1"/><ellipse cx="0.8" cy="0" rx="2.5" ry="4.2" fill="#fff" stroke-width="1.1"/><ellipse cx="0.8" cy="0" rx="1.3" ry="2.1" fill="none" stroke-width="0.8"/></g>
<g transform="translate(641.2,1366.4) rotate(-26.6)"><rect x="6" y="-2.4" width="6.6" height="4.8" fill="#fff" stroke-width="1.1"/><rect x="12.6" y="-2.4" width="19.8" height="4.8" rx="1.2" fill="#111" stroke-width="1.1"/><rect x="0" y="-4.2" width="6" height="8.5" rx="1.5" fill="#fff" stroke-width="1.1"/><ellipse cx="0.8" cy="0" rx="2.5" ry="4.2" fill="#fff" stroke-width="1.1"/><ellipse cx="0.8" cy="0" rx="1.3" ry="2.1" fill="none" stroke-width="0.8"/></g>
<ellipse cx="409.9" cy="1420" rx="5.5" ry="7.5" fill="none" stroke-width="1.5" transform="rotate(-15 409.9 1420)" />
<ellipse cx="442" cy="1432.5" rx="5.5" ry="7.5" fill="none" stroke-width="1.5" transform="rotate(-15 442 1432.5)" />
<ellipse cx="314.6" cy="1469.8" rx="5.8" ry="7.8" fill="none" stroke-width="1.5" transform="rotate(-15 314.6 1469.8)" />
<ellipse cx="347.8" cy="1477" rx="5.8" ry="7.8" fill="none" stroke-width="1.5" transform="rotate(-15 347.8 1477)" />
<g transform="translate(270.1,1487.4) rotate(-21.1)">
<rect x="8" y="-3.5" width="20.8" height="7" rx="1" fill="#fff" stroke-width="1.2"/>
<rect x="15.9" y="-3.5" width="13" height="7" rx="1" fill="#111" stroke-width="1.1"/>
<path d="M-2,-8 L6,-8 L9,-4 L9,4 L6,8 L-2,8 Z" fill="#fff" stroke-width="1.3"/>
<ellipse cx="-2" cy="0" rx="4.5" ry="8" fill="#fff" stroke-width="1.3"/>
</g>
<g transform="translate(310.5,1495.7) rotate(-24.7)">
<rect x="8" y="-3.5" width="19.3" height="7" rx="1" fill="#fff" stroke-width="1.2"/>
<rect x="15" y="-3.5" width="12.3" height="7" rx="1" fill="#111" stroke-width="1.1"/>
<path d="M-2,-8 L6,-8 L9,-4 L9,4 L6,8 L-2,8 Z" fill="#fff" stroke-width="1.3"/>
<ellipse cx="-2" cy="0" rx="4.5" ry="8" fill="#fff" stroke-width="1.3"/>
</g>
<ellipse cx="385.9" cy="1446" rx="30.5" ry="40" fill="#fff" stroke-width="1.3" transform="rotate(-22 385.9 1446)" />
<polygon points="359.9,1416 377.9,1406 403.9,1486 387.9,1492" fill="#fff" stroke="none"/>
<path d="M350.5,1425 Q358,1410 376,1408.5 Q395,1409 405,1426 L399,1431 Q394,1420 378,1418 Q362,1418 356,1430 Z" fill="#fff" stroke-width="1.5" />
<path d="M358.7,1465.4 Q366,1482 385,1486.5 Q404,1487 412.3,1468.3 L405,1463 Q400,1478 386,1478.5 Q371,1477 364,1462 Z" fill="#fff" stroke-width="1.5" />
<path d="M352,1429 Q348,1445 355,1462" fill="none" stroke-width="1.2" />
<path d="M405,1430 Q413,1445 411,1464" fill="none" stroke-width="1.2" />
<line x1="394.9" y1="1432" x2="405" y2="1427" stroke-width="1.3" />
<line x1="358.7" y1="1465.4" x2="364" y2="1462" stroke-width="1.3" />
<path d="M358.7,1433.5 L372,1440 L380,1430 L376.1,1424.8 M402.2,1466.8 L390,1458 L383.3,1475.5" fill="none" stroke-width="1.2" />
<path d="M365,1455 L373,1452 M395,1440 L389,1446" fill="none" stroke-width="1.2" />
<ellipse cx="380.8" cy="1448" rx="6" ry="11" fill="#222" stroke-width="0" transform="rotate(-15 380.8 1448)" stroke="none"/>
<line x1="375.5" y1="1440" x2="386" y2="1438.5" stroke-width="0.8" stroke="#fff"/>
<line x1="375.8" y1="1443.2" x2="386.3" y2="1441.7" stroke-width="0.8" stroke="#fff"/>
<line x1="376.1" y1="1446.4" x2="386.6" y2="1444.9" stroke-width="0.8" stroke="#fff"/>
<line x1="376.4" y1="1449.6" x2="386.9" y2="1448.1" stroke-width="0.8" stroke="#fff"/>
<line x1="376.7" y1="1452.8" x2="387.2" y2="1451.3" stroke-width="0.8" stroke="#fff"/>
<line x1="377" y1="1456" x2="387.5" y2="1454.5" stroke-width="0.8" stroke="#fff"/>
<ellipse cx="360.1" cy="1446.5" rx="6.2" ry="7.6" fill="#fff" stroke-width="1.5" transform="rotate(-10 360.1 1446.5)" />
<ellipse cx="360.1" cy="1446.5" rx="3" ry="3.8" fill="none" stroke-width="1.2" transform="rotate(-10 360.1 1446.5)" />
<ellipse cx="397.8" cy="1452.3" rx="6.2" ry="7.6" fill="#fff" stroke-width="1.5" transform="rotate(-10 397.8 1452.3)" />
<ellipse cx="397.8" cy="1452.3" rx="3" ry="3.8" fill="none" stroke-width="1.2" transform="rotate(-10 397.8 1452.3)" />
<path d="M174.9,1470.8 L202.8,1457.3 L205,1460 L208,1465.6 L206,1476 Q222,1484 234.9,1498.8 L255.6,1510.1 L280.5,1510.1 L295,1504 L297,1512 L297,1523.6 Q300,1535 299.1,1544.3 Q298,1560 295,1569.2 Q290,1580 284.6,1585.7 Q276,1592 268,1594 Q255,1600 239,1600.2 Q225,1599 214.2,1594 Q205,1588 197.7,1581.6 Q186,1568 179,1554.7 Q171,1540 168.7,1523.6 Q166,1514 167.6,1507 Q169,1495 171.8,1486.3 Z" fill="#fff" stroke-width="1.5" />
<polyline points="175,1471 176,1480 203,1467 204,1459" fill="none" stroke-width="1.1" />
<line x1="178" y1="1474" x2="202" y2="1462" stroke-width="1.8" />
<line x1="190" y1="1474" x2="203" y2="1468" stroke-width="1.0" />
<path d="M206,1476 Q222,1482 235,1496 L255.6,1508" fill="none" stroke-width="2.0" />
<polyline points="179,1482.2 237,1512.2 243.2,1581.6 183.2,1552.6 179,1482.2" fill="none" stroke-width="1.2" />
<ellipse cx="211.5" cy="1533" rx="30" ry="47" fill="none" stroke-width="1.4" transform="rotate(-12 211.5 1533)" />
<ellipse cx="213" cy="1533" rx="26.5" ry="43" fill="none" stroke-width="1.1" transform="rotate(-12 213 1533)" />
<ellipse cx="218" cy="1532" rx="22" ry="39" fill="none" stroke-width="1.0" transform="rotate(-12 218 1532)" />
<path d="M255.6,1510.1 Q262,1530 263,1560 Q262,1580 258,1595" fill="none" stroke-width="1.1" />
<path d="M280.5,1510.1 Q284,1540 283,1565 Q280,1580 276,1589" fill="none" stroke-width="1.1" />
<ellipse cx="183" cy="1488" rx="2.2" ry="2.8" fill="none" stroke-width="1.1" />
<ellipse cx="236" cy="1517" rx="2.2" ry="2.8" fill="none" stroke-width="1.1" />
<ellipse cx="239" cy="1577" rx="2.2" ry="2.8" fill="none" stroke-width="1.1" />
<ellipse cx="184" cy="1551" rx="2.2" ry="2.8" fill="none" stroke-width="1.1" />
<path d="M290,1512 L298,1507 L302,1513 L302,1522 L292,1527 Z" fill="#fff" stroke-width="1.2" />
<ellipse cx="294" cy="1519" rx="2.5" ry="3" fill="none" stroke-width="1.1" />
<path d="M270,1588 L282,1583 L285,1592 L274,1596 Z" fill="#fff" stroke-width="1.2" />
<g transform="translate(126.2,1501.9) rotate(-25.8)"><rect x="6" y="-2.4" width="4.6" height="4.8" fill="#fff" stroke-width="1.1"/><rect x="10.6" y="-2.4" width="18.2" height="4.8" rx="1.2" fill="#111" stroke-width="1.1"/><rect x="0" y="-4.2" width="6" height="8.5" rx="1.5" fill="#fff" stroke-width="1.1"/><ellipse cx="0.8" cy="0" rx="2.5" ry="4.2" fill="#fff" stroke-width="1.1"/><ellipse cx="0.8" cy="0" rx="1.3" ry="2.1" fill="none" stroke-width="0.8"/></g>
<g transform="translate(116.9,1601.2) rotate(-25.4)"><rect x="6" y="-2.4" width="4.1" height="4.8" fill="#fff" stroke-width="1.1"/><rect x="10.1" y="-2.4" width="16.3" height="4.8" rx="1.2" fill="#111" stroke-width="1.1"/><rect x="0" y="-4.2" width="6" height="8.5" rx="1.5" fill="#fff" stroke-width="1.1"/><ellipse cx="0.8" cy="0" rx="2.5" ry="4.2" fill="#fff" stroke-width="1.1"/><ellipse cx="0.8" cy="0" rx="1.3" ry="2.1" fill="none" stroke-width="0.8"/></g>
<g transform="translate(178,1639.5) rotate(-23.4)"><rect x="6" y="-2.4" width="4" height="4.8" fill="#fff" stroke-width="1.1"/><rect x="10" y="-2.4" width="15.9" height="4.8" rx="1.2" fill="#111" stroke-width="1.1"/><rect x="0" y="-4.2" width="6" height="8.5" rx="1.5" fill="#fff" stroke-width="1.1"/><ellipse cx="0.8" cy="0" rx="2.5" ry="4.2" fill="#fff" stroke-width="1.1"/><ellipse cx="0.8" cy="0" rx="1.3" ry="2.1" fill="none" stroke-width="0.8"/></g>
<g transform="translate(183.2,1581.6) rotate(-27.7)"><rect x="6" y="-2.4" width="3.7" height="4.8" fill="#fff" stroke-width="1.1"/><rect x="9.7" y="-2.4" width="14.8" height="4.8" rx="1.2" fill="#111" stroke-width="1.1"/><rect x="0" y="-4.2" width="6" height="8.5" rx="1.5" fill="#fff" stroke-width="1.1"/><ellipse cx="0.8" cy="0" rx="2.5" ry="4.2" fill="#fff" stroke-width="1.1"/><ellipse cx="0.8" cy="0" rx="1.3" ry="2.1" fill="none" stroke-width="0.8"/></g>
<path d="M718,1487 Q722,1483 730,1482 L782.7,1475.5 L802,1484 Q812,1494 820,1503 L835,1510 L845,1511 Q850,1505 868,1510 Q880,1514 882,1524 Q884,1530 880,1540 L873.4,1558 Q870,1565 860,1566 L806.3,1573 Q795,1575 780,1570 Q748,1558 728,1545 Q722,1538 721,1530 L716,1500 Q715,1492 718,1487 Z" fill="#fff" stroke-width="1.5" />
<path d="M719,1489 Q728,1489 736,1493 Q742,1497 746,1505 Q750,1518 760,1523 Q770,1528 784,1529 Q792,1530 796,1524 L798,1518 Q800,1512 807,1513 L835,1521" fill="none" stroke-width="1.2" />
<path d="M736,1493 Q744,1492 746,1505" fill="none" stroke-width="1.0" />
<path d="M738,1498 Q742,1510 750,1520" fill="none" stroke-width="1.0" />
<path d="M753,1525 Q765,1532 780,1534 Q788,1535 790,1530" fill="none" stroke-width="1.0" />
<ellipse cx="784.5" cy="1533" rx="3.5" ry="4" fill="#fff" stroke-width="1.2" />
<path d="M807,1513 Q815,1518 816,1530 L810,1570" fill="none" stroke-width="1.2" />
<path d="M818,1512 Q823,1518 823,1528 L817,1570" fill="none" stroke-width="1.1" />
<path d="M823,1538 L872,1530" fill="none" stroke-width="1.0" />
<path d="M727,1542 Q760,1562 806,1567 L870,1558" fill="none" stroke-width="1.0" />
<path d="M762,1497 L764,1484 Q767,1480 771,1483 L773,1500" fill="#fff" stroke-width="1.2" />
<ellipse cx="766.5" cy="1486" rx="1.5" ry="2" fill="none" stroke-width="1.0" />
<path d="M801,1514 L804,1502 Q807,1498 810,1502 L813,1513" fill="#fff" stroke-width="1.2" />
<ellipse cx="806.5" cy="1503" rx="1.5" ry="2" fill="none" stroke-width="1.0" />
<path d="M782,1475.5 L790,1480 L820,1503" fill="none" stroke-width="1.0" />
<path d="M772,1489 L800,1484" fill="none" stroke-width="1.0" />
<path d="M768,1495 Q785,1506 796,1510" fill="none" stroke-width="1.1" />
<path d="M836,1509 L836,1522 Q856,1532 874,1520 L874,1507" fill="#fff" stroke-width="1.5" />
<ellipse cx="855" cy="1507" rx="19" ry="7" fill="#fff" stroke-width="1.6" />
<ellipse cx="857" cy="1505.5" rx="7" ry="2.8" fill="#111" stroke-width="0" stroke="none"/>
<line x1="840" y1="1512" x2="840" y2="1524" stroke-width="1.0" />
<line x1="847" y1="1512" x2="847" y2="1524" stroke-width="1.0" />
<line x1="855" y1="1512" x2="855" y2="1524" stroke-width="1.0" />
<line x1="863" y1="1512" x2="863" y2="1524" stroke-width="1.0" />
<line x1="870" y1="1512" x2="870" y2="1524" stroke-width="1.0" />
<path d="M835,1520 Q838,1545 845,1553 Q857,1556 866,1545 Q873,1533 874,1522" fill="none" stroke-width="1.1" />
<path d="M843,1504 Q843,1490 842,1478 L841,1464 L845,1464 L846,1478 Q847,1490 848,1504" fill="#fff" stroke-width="1.2" />
<path d="M853,1504 Q854,1488 851,1475 L850,1460 L854,1460 L855,1475 Q858,1490 858,1504" fill="#fff" stroke-width="1.2" />
<g transform="translate(873.4,1432.3) rotate(157.6)"><rect x="5" y="-2.3" width="17.8" height="4.6" rx="1.2" fill="#111" stroke-width="1.1"/><rect x="0" y="-3.8" width="5" height="7.5" rx="1.5" fill="#fff" stroke-width="1.1"/><ellipse cx="0.8" cy="0" rx="2.2" ry="3.8" fill="#fff" stroke-width="1.1"/><ellipse cx="0.8" cy="0" rx="1.1" ry="1.9" fill="none" stroke-width="0.8"/></g>
<g transform="translate(911.9,1449.7) rotate(154.9)"><rect x="5" y="-2.3" width="18.3" height="4.6" rx="1.2" fill="#111" stroke-width="1.1"/><rect x="0" y="-3.8" width="5" height="7.5" rx="1.5" fill="#fff" stroke-width="1.1"/><ellipse cx="0.8" cy="0" rx="2.2" ry="3.8" fill="#fff" stroke-width="1.1"/><ellipse cx="0.8" cy="0" rx="1.1" ry="1.9" fill="none" stroke-width="0.8"/></g>
<line x1="852" y1="1442" x2="780" y2="1478" class="ax"/>
<line x1="890" y1="1461" x2="830" y2="1490" class="ax"/>
<g transform="translate(941.7,1431) rotate(22)"><rect x="0" y="-3" width="25" height="6" rx="3" fill="#fff" stroke-width="1.4"/><line x1="3" y1="0" x2="22" y2="0" stroke-width="0.9"/></g>
<path d="M978,1380 Q976,1376 980,1375 Q983,1377 983,1383 Q985,1396 995,1400 Q1003,1400 1006,1392 Q1006,1388 1009,1388 Q1012,1390 1011,1397 Q1009,1410 1001,1416 L1000,1420 L990,1418 L978,1412 L980,1405 L988,1408 Q982,1400 980,1390 Z" fill="#fff" stroke-width="1.3" />
<ellipse cx="980.5" cy="1379" rx="1.5" ry="2" fill="none" stroke-width="1.0" />
<ellipse cx="1008.5" cy="1391" rx="1.5" ry="2" fill="none" stroke-width="1.0" />
<path d="M655,1531 L652,1583 Q652,1590 659,1590 L686,1589 Q691,1590 693,1596 L697,1605 Q700,1610 706,1609 L747,1602" fill="none" stroke="#111" stroke-width="5"/>
<path d="M655,1531 L652,1583 Q652,1590 659,1590 L686,1589 Q691,1590 693,1596 L697,1605 Q700,1610 706,1609 L747,1602" fill="none" stroke="#fff" stroke-width="1.8"/>
<path d="M697,1549 L701.5,1605" fill="none" stroke="#111" stroke-width="5"/>
<path d="M697,1549 L701.5,1605" fill="none" stroke="#fff" stroke-width="1.8"/>
<path d="M661,1540 Q662,1562 673,1570 Q683,1575 689,1566 Q692,1560 692,1553" fill="none" stroke="#111" stroke-width="3.6"/>
<path d="M661,1540 Q662,1562 673,1570 Q683,1575 689,1566 Q692,1560 692,1553" fill="none" stroke="#fff" stroke-width="1.2"/>
<path d="M659,1577 L688,1584 L698,1593" fill="none" stroke="#111" stroke-width="4"/>
<path d="M659,1577 L688,1584 L698,1593" fill="none" stroke="#fff" stroke-width="1.6"/>
<path d="M653,1530 L660,1530 L663,1538 L656,1540 Z" fill="#fff" stroke-width="1.2" />
<path d="M695,1547 L700,1545 L702,1551" fill="none" stroke-width="1.2" />
<ellipse cx="708" cy="1584" rx="3.5" ry="2.2" fill="none" stroke-width="1.3" />
</g>
<g fill="none" stroke="#111" stroke-width="1.25" stroke-linecap="round" stroke-linejoin="round">
<path transform="translate(551.5,540.2)" d="M6.3,0 L0,14.6 L11.3,14.6 M7.6,11 L7.6,19.5"/>
<path transform="translate(568.6,540.2)" d="M0,0.4 L9.5,0.4 L4.4,19.5"/>
<polyline points="581.7,564.4 547.9,564.4 505.6,643.6"/>
<path transform="translate(596.4,563.1)" d="M6.3,0 L0,14.6 L11.3,14.6 M7.6,11 L7.6,19.5"/>
<path transform="translate(613.5,563.1)" d="M0.9,4.7 A4.1,4.45 0 1,0 9.1,4.7 A4.1,4.45 0 1,0 0.9,4.7 Z M0.1,14.3 A4.9,5.1 0 1,0 9.9,14.3 A4.9,5.1 0 1,0 0.1,14.3 Z"/>
<polyline points="626.8,587.3 593,587.3 553.2,665.3"/>
<path transform="translate(659.4,594.1)" d="M6.3,0 L0,14.6 L11.3,14.6 M7.6,11 L7.6,19.5"/>
<path transform="translate(676.5,594.1)" d="M1.8,19.5 C6.4,18 9.4,13 9.4,6.7 C9.4,2.2 7.4,0 4.7,0 C2,0 0,2.2 0,5.9 C0,9.6 2,11.7 4.7,11.7 C6.8,11.7 8.4,10.5 9.1,9"/>
<polyline points="689.5,618.3 655.7,618.3 626.7,671.6"/>
<path transform="translate(358.5,777.8)" d="M6.3,0 L0,14.6 L11.3,14.6 M7.6,11 L7.6,19.5"/>
<path transform="translate(375.6,777.8)" d="M0,0.4 L9.5,0.4 L4.4,19.5"/>
<polyline points="354.9,802 388.7,802 462.2,662.2"/>
<path transform="translate(423.5,780.1)" d="M6.3,0 L0,14.6 L11.3,14.6 M7.6,11 L7.6,19.5"/>
<path transform="translate(440.6,780.1)" d="M0.9,4.7 A4.1,4.45 0 1,0 9.1,4.7 A4.1,4.45 0 1,0 0.9,4.7 Z M0.1,14.3 A4.9,5.1 0 1,0 9.9,14.3 A4.9,5.1 0 1,0 0.1,14.3 Z"/>
<polyline points="420.1,804.3 453.9,804.3 516,687.9"/>
<path transform="translate(423.7,810.8)" d="M6.3,0 L0,14.6 L11.3,14.6 M7.6,11 L7.6,19.5"/>
<path transform="translate(440.8,810.8)" d="M9.2,0.4 L1.2,0.4 L0.7,8.6 C1.9,7.6 3.4,7.2 4.9,7.2 C7.9,7.2 9.6,9.6 9.6,13.2 C9.6,17.2 7.4,19.3 4.7,19.3 C2.7,19.3 1.1,18.5 0.2,17.2"/>
<polyline points="420.1,835 453.9,835 517,717.4"/>
<path transform="translate(762.8,646.8)" d="M9.2,0.4 L1.2,0.4 L0.7,8.6 C1.9,7.6 3.4,7.2 4.9,7.2 C7.9,7.2 9.6,9.6 9.6,13.2 C9.6,17.2 7.4,19.3 4.7,19.3 C2.7,19.3 1.1,18.5 0.2,17.2"/>
<path transform="translate(778.2,646.8)" d="M4.65,0 C7.3,0 9.3,3.2 9.3,9.75 C9.3,16.3 7.3,19.5 4.65,19.5 C2,19.5 0,16.3 0,9.75 C0,3.2 2,0 4.65,0 Z"/>
<polyline points="792.1,671 758.3,671 728.8,727"/>
<path transform="translate(821.9,433.1)" d="M6.3,0 L0,14.6 L11.3,14.6 M7.6,11 L7.6,19.5"/>
<path transform="translate(839.0,433.1)" d="M7.6,0 C3,1.5 0,6.5 0,12.8 C0,17.3 2,19.5 4.7,19.5 C7.4,19.5 9.4,17.3 9.4,13.6 C9.4,9.9 7.4,7.8 4.7,7.8 C2.6,7.8 1,9 0.3,10.5"/>
<polyline points="818.3,457.3 852.1,457.3 903.6,505.9"/>
<path transform="translate(821.8,476.1)" d="M6.3,0 L0,14.6 L11.3,14.6 M7.6,11 L7.6,19.5"/>
<path transform="translate(838.9,476.1)" d="M9.2,0.4 L1.2,0.4 L0.7,8.6 C1.9,7.6 3.4,7.2 4.9,7.2 C7.9,7.2 9.6,9.6 9.6,13.2 C9.6,17.2 7.4,19.3 4.7,19.3 C2.7,19.3 1.1,18.5 0.2,17.2"/>
<polyline points="818.3,500.3 852.1,500.3 906.7,550.4"/>
<path transform="translate(821.0,734.3)" d="M6.3,0 L0,14.6 L11.3,14.6 M7.6,11 L7.6,19.5"/>
<path transform="translate(838.1,734.3)" d="M6.3,0 L0,14.6 L11.3,14.6 M7.6,11 L7.6,19.5"/>
<polyline points="818.3,758.5 852.1,758.5 883.9,697.4"/>
<path transform="translate(1061.0,675.7)" d="M0,4.6 L4.7,0 L4.7,19.5"/>
<polyline points="1080.2,699.9 1046.4,699.9 934.6,730.6"/>
<polyline points="1080.2,699.9 1046.4,699.9 969.8,747.1"/>
<path transform="translate(788.8,795.2)" d="M0,4.6 L4.7,0 L4.7,19.5"/>
<polyline points="774.2,819.4 808,819.4 887,748.2"/>
<polyline points="774.2,819.4 808,819.4 924.3,763.7"/>
<path transform="translate(1024.7,871.4)" d="M6.3,0 L0,14.6 L11.3,14.6 M7.6,11 L7.6,19.5"/>
<path transform="translate(1041.8,871.4)" d="M0.3,3.4 C1.3,1 3,0 5,0 C7.8,0 9.5,1.9 9.5,4.8 C9.5,7.6 7.8,9.6 5.2,12.6 C3,15.2 1.2,17.2 0.4,19.1 L9.8,19.1"/>
<polyline points="1055,895.6 1021.2,895.6 988.4,831.4"/>
<path transform="translate(1079.9,842.0)" d="M6.3,0 L0,14.6 L11.3,14.6 M7.6,11 L7.6,19.5"/>
<path transform="translate(1097.0,842.0)" d="M0,0.4 L5.4,0.4 C8,0.4 9.4,2.3 9.4,4.8 C9.4,7.3 7.8,9.1 5.4,9.1 L2.2,9.1 M5.4,9.1 C8.2,9.1 9.8,11.3 9.8,14.2 C9.8,17.2 8,19.2 5.4,19.2 L0,19.2"/>
<polyline points="1110.2,866.2 1076.4,866.2 1035,785.9"/>
<path transform="translate(824.3,839.3)" d="M6.3,0 L0,14.6 L11.3,14.6 M7.6,11 L7.6,19.5"/>
<path transform="translate(841.4,839.3)" d="M0,4.6 L4.7,0 L4.7,19.5"/>
<polyline points="818.3,863.5 852.1,863.5 883.9,923.6"/>
<path transform="translate(964.6,963.5)" d="M0,0.4 L5.4,0.4 C8,0.4 9.4,2.3 9.4,4.8 C9.4,7.3 7.8,9.1 5.4,9.1 L2.2,9.1 M5.4,9.1 C8.2,9.1 9.8,11.3 9.8,14.2 C9.8,17.2 8,19.2 5.4,19.2 L0,19.2"/>
<path transform="translate(980.2,963.5)" d="M0.9,4.7 A4.1,4.45 0 1,0 9.1,4.7 A4.1,4.45 0 1,0 0.9,4.7 Z M0.1,14.3 A4.9,5.1 0 1,0 9.9,14.3 A4.9,5.1 0 1,0 0.1,14.3 Z"/>
<polyline points="994.3,987.7 960.5,987.7 951.2,970.1"/>
<path transform="translate(865.2,959.0)" d="M0,0.4 L5.4,0.4 C8,0.4 9.4,2.3 9.4,4.8 C9.4,7.3 7.8,9.1 5.4,9.1 L2.2,9.1 M5.4,9.1 C8.2,9.1 9.8,11.3 9.8,14.2 C9.8,17.2 8,19.2 5.4,19.2 L0,19.2"/>
<path transform="translate(880.8,959.0)" d="M0.9,4.7 A4.1,4.45 0 1,0 9.1,4.7 A4.1,4.45 0 1,0 0.9,4.7 Z M0.1,14.3 A4.9,5.1 0 1,0 9.9,14.3 A4.9,5.1 0 1,0 0.1,14.3 Z"/>
<polyline points="861.1,983.2 894.9,983.2 907.7,1009.5"/>
<path transform="translate(865.5,998.8)" d="M0,0.4 L5.4,0.4 C8,0.4 9.4,2.3 9.4,4.8 C9.4,7.3 7.8,9.1 5.4,9.1 L2.2,9.1 M5.4,9.1 C8.2,9.1 9.8,11.3 9.8,14.2 C9.8,17.2 8,19.2 5.4,19.2 L0,19.2"/>
<path transform="translate(881.1,998.8)" d="M0,0.4 L9.5,0.4 L4.4,19.5"/>
<polyline points="861.1,1023 894.9,1023 908.7,1048.8"/>
<path transform="translate(822.7,1021.1)" d="M0,0.4 L5.4,0.4 C8,0.4 9.4,2.3 9.4,4.8 C9.4,7.3 7.8,9.1 5.4,9.1 L2.2,9.1 M5.4,9.1 C8.2,9.1 9.8,11.3 9.8,14.2 C9.8,17.2 8,19.2 5.4,19.2 L0,19.2"/>
<path transform="translate(838.3,1021.1)" d="M7.6,0 C3,1.5 0,6.5 0,12.8 C0,17.3 2,19.5 4.7,19.5 C7.4,19.5 9.4,17.3 9.4,13.6 C9.4,9.9 7.4,7.8 4.7,7.8 C2.6,7.8 1,9 0.3,10.5"/>
<polyline points="818.3,1045.3 852.1,1045.3 869.4,1076.8"/>
<path transform="translate(823.1,1081.3)" d="M0.3,3.4 C1.3,1 3,0 5,0 C7.8,0 9.5,1.9 9.5,4.8 C9.5,7.6 7.8,9.6 5.2,12.6 C3,15.2 1.2,17.2 0.4,19.1 L9.8,19.1"/>
<path transform="translate(838.7,1081.3)" d="M4.65,0 C7.3,0 9.3,3.2 9.3,9.75 C9.3,16.3 7.3,19.5 4.65,19.5 C2,19.5 0,16.3 0,9.75 C0,3.2 2,0 4.65,0 Z"/>
<polyline points="818.6,1105.5 852.4,1105.5 875.6,1149"/>
<path transform="translate(1024.9,930.8)" d="M0,0.4 L5.4,0.4 C8,0.4 9.4,2.3 9.4,4.8 C9.4,7.3 7.8,9.1 5.4,9.1 L2.2,9.1 M5.4,9.1 C8.2,9.1 9.8,11.3 9.8,14.2 C9.8,17.2 8,19.2 5.4,19.2 L0,19.2"/>
<path transform="translate(1040.5,930.8)" d="M1.8,19.5 C6.4,18 9.4,13 9.4,6.7 C9.4,2.2 7.4,0 4.7,0 C2,0 0,2.2 0,5.9 C0,9.6 2,11.7 4.7,11.7 C6.8,11.7 8.4,10.5 9.1,9"/>
<polyline points="1054.3,955 1020.5,955 990.5,1014.7"/>
<path transform="translate(1080.1,902.1)" d="M6.3,0 L0,14.6 L11.3,14.6 M7.6,11 L7.6,19.5"/>
<path transform="translate(1097.2,902.1)" d="M4.65,0 C7.3,0 9.3,3.2 9.3,9.75 C9.3,16.3 7.3,19.5 4.65,19.5 C2,19.5 0,16.3 0,9.75 C0,3.2 2,0 4.65,0 Z"/>
<polyline points="1110.2,926.3 1076.4,926.3 1043.3,989.8"/>
<path transform="translate(1137.9,872.4)" d="M0,0.4 L5.4,0.4 C8,0.4 9.4,2.3 9.4,4.8 C9.4,7.3 7.8,9.1 5.4,9.1 L2.2,9.1 M5.4,9.1 C8.2,9.1 9.8,11.3 9.8,14.2 C9.8,17.2 8,19.2 5.4,19.2 L0,19.2"/>
<path transform="translate(1153.5,872.4)" d="M7.6,0 C3,1.5 0,6.5 0,12.8 C0,17.3 2,19.5 4.7,19.5 C7.4,19.5 9.4,17.3 9.4,13.6 C9.4,9.9 7.4,7.8 4.7,7.8 C2.6,7.8 1,9 0.3,10.5"/>
<polyline points="1167.3,896.6 1133.5,896.6 1096.1,969.1"/>
<path transform="translate(1211.7,889.0)" d="M0,4.6 L4.7,0 L4.7,19.5"/>
<path transform="translate(1222.2,889.0)" d="M0,0.4 L5.4,0.4 C8,0.4 9.4,2.3 9.4,4.8 C9.4,7.3 7.8,9.1 5.4,9.1 L2.2,9.1 M5.4,9.1 C8.2,9.1 9.8,11.3 9.8,14.2 C9.8,17.2 8,19.2 5.4,19.2 L0,19.2"/>
<polyline points="1204.9,913.2 1238.7,913.2 1280.5,992.9"/>
<path transform="translate(1255.2,866.6)" d="M0,4.6 L4.7,0 L4.7,19.5"/>
<path transform="translate(1265.7,866.6)" d="M0.3,3.4 C1.3,1 3,0 5,0 C7.8,0 9.5,1.9 9.5,4.8 C9.5,7.6 7.8,9.6 5.2,12.6 C3,15.2 1.2,17.2 0.4,19.1 L9.8,19.1"/>
<polyline points="1248.4,890.8 1282.2,890.8 1314.6,952.5"/>
<path transform="translate(1307.3,842.0)" d="M0,4.6 L4.7,0 L4.7,19.5"/>
<path transform="translate(1317.8,842.0)" d="M0,4.6 L4.7,0 L4.7,19.5"/>
<polyline points="1298,866.2 1331.8,866.2 1352.9,904.9"/>
<path transform="translate(1349.6,819.7)" d="M0,4.6 L4.7,0 L4.7,19.5"/>
<path transform="translate(1360.1,819.7)" d="M4.65,0 C7.3,0 9.3,3.2 9.3,9.75 C9.3,16.3 7.3,19.5 4.65,19.5 C2,19.5 0,16.3 0,9.75 C0,3.2 2,0 4.65,0 Z"/>
<polyline points="1342.6,843.9 1376.4,843.9 1418.1,929.8"/>
<path transform="translate(1401.4,796.3)" d="M1.8,19.5 C6.4,18 9.4,13 9.4,6.7 C9.4,2.2 7.4,0 4.7,0 C2,0 0,2.2 0,5.9 C0,9.6 2,11.7 4.7,11.7 C6.8,11.7 8.4,10.5 9.1,9"/>
<polyline points="1389.2,820.5 1423,820.5 1461.6,892.5"/>
<path transform="translate(1453.9,770.6)" d="M0.9,4.7 A4.1,4.45 0 1,0 9.1,4.7 A4.1,4.45 0 1,0 0.9,4.7 Z M0.1,14.3 A4.9,5.1 0 1,0 9.9,14.3 A4.9,5.1 0 1,0 0.1,14.3 Z"/>
<polyline points="1442,794.8 1475.8,794.8 1519.6,876"/>
<path transform="translate(1487.7,752.8)" d="M0,0.4 L9.5,0.4 L4.4,19.5"/>
<polyline points="1475.5,777 1509.3,777 1553.5,859.8"/>
<path transform="translate(1509.0,992.5)" d="M0,0.4 L9.5,0.4 L4.4,19.5"/>
<polyline points="1530.6,1016.7 1496.8,1016.7 1448.2,923.6"/>
<path transform="translate(1562.6,966.1)" d="M0,0.4 L9.5,0.4 L4.4,19.5"/>
<polyline points="1584.2,990.3 1550.4,990.3 1499.7,896"/>
<path transform="translate(1535.2,729.4)" d="M7.6,0 C3,1.5 0,6.5 0,12.8 C0,17.3 2,19.5 4.7,19.5 C7.4,19.5 9.4,17.3 9.4,13.6 C9.4,9.9 7.4,7.8 4.7,7.8 C2.6,7.8 1,9 0.3,10.5"/>
<polyline points="1523,753.6 1556.8,753.6 1583.5,805"/>
<path transform="translate(1596.1,699.4)" d="M9.2,0.4 L1.2,0.4 L0.7,8.6 C1.9,7.6 3.4,7.2 4.9,7.2 C7.9,7.2 9.6,9.6 9.6,13.2 C9.6,17.2 7.4,19.3 4.7,19.3 C2.7,19.3 1.1,18.5 0.2,17.2"/>
<polyline points="1584,723.6 1617.8,723.6 1648.1,780.1"/>
<path transform="translate(1674.5,659.7)" d="M6.3,0 L0,14.6 L11.3,14.6 M7.6,11 L7.6,19.5"/>
<polyline points="1663.2,683.9 1697,683.9 1720.2,730.4"/>
<path transform="translate(1760.5,618.2)" d="M0,4.6 L4.7,0 L4.7,19.5"/>
<polyline points="1746,642.4 1779.8,642.4 1802,684.9"/>
<path transform="translate(1760.5,673.1)" d="M0,4.6 L4.7,0 L4.7,19.5"/>
<polyline points="1746,697.3 1779.8,697.3 1803,740.8"/>
<path transform="translate(1758.2,891.2)" d="M0,0.4 L5.4,0.4 C8,0.4 9.4,2.3 9.4,4.8 C9.4,7.3 7.8,9.1 5.4,9.1 L2.2,9.1 M5.4,9.1 C8.2,9.1 9.8,11.3 9.8,14.2 C9.8,17.2 8,19.2 5.4,19.2 L0,19.2"/>
<polyline points="1746.2,915.4 1780,915.4 1804,870.2"/>
<path transform="translate(1903.0,636.3)" d="M0,4.6 L4.7,0 L4.7,19.5"/>
<polyline points="1922.2,660.5 1888.4,660.5 1865.6,703.5"/>
<path transform="translate(1903.0,696.3)" d="M0,4.6 L4.7,0 L4.7,19.5"/>
<polyline points="1922.2,720.5 1888.4,720.5 1865.6,763.6"/>
<path transform="translate(1900.4,770.0)" d="M0.3,3.4 C1.3,1 3,0 5,0 C7.8,0 9.5,1.9 9.5,4.8 C9.5,7.6 7.8,9.6 5.2,12.6 C3,15.2 1.2,17.2 0.4,19.1 L9.8,19.1"/>
<polyline points="1922.2,794.2 1888.4,794.2 1867.7,832.9"/>
<path transform="translate(1950.7,956.3)" d="M0,19.5 L6.75,0 L13.5,19.5 M2.0,13.8 L11.5,13.8"/>
<path transform="translate(1970.0,956.3)" d="M0,4.6 L4.7,0 L4.7,19.5"/>
<polyline points="1982.7,980.5 1942.7,980.5 1894.6,888.8"/>
<path transform="translate(1210.9,938.7)" d="M0,4.6 L4.7,0 L4.7,19.5"/>
<path transform="translate(1221.4,938.7)" d="M6.3,0 L0,14.6 L11.3,14.6 M7.6,11 L7.6,19.5"/>
<polyline points="1204.9,962.9 1238.7,962.9 1257.7,1001.2"/>
<path transform="translate(1244.1,1121.8)" d="M0,4.6 L4.7,0 L4.7,19.5"/>
<path transform="translate(1254.6,1121.8)" d="M9.2,0.4 L1.2,0.4 L0.7,8.6 C1.9,7.6 3.4,7.2 4.9,7.2 C7.9,7.2 9.6,9.6 9.6,13.2 C9.6,17.2 7.4,19.3 4.7,19.3 C2.7,19.3 1.1,18.5 0.2,17.2"/>
<polyline points="1271.1,1146 1237.3,1146 1209.6,1094.3"/>
<path transform="translate(1186.2,1151.3)" d="M0,4.6 L4.7,0 L4.7,19.5"/>
<path transform="translate(1196.8,1151.3)" d="M7.6,0 C3,1.5 0,6.5 0,12.8 C0,17.3 2,19.5 4.7,19.5 C7.4,19.5 9.4,17.3 9.4,13.6 C9.4,9.9 7.4,7.8 4.7,7.8 C2.6,7.8 1,9 0.3,10.5"/>
<polyline points="1213.1,1175.5 1179.3,1175.5 1153,1123.8"/>
<path transform="translate(1141.7,1173.1)" d="M0,4.6 L4.7,0 L4.7,19.5"/>
<path transform="translate(1152.2,1173.1)" d="M0,0.4 L9.5,0.4 L4.4,19.5"/>
<polyline points="1168.6,1197.3 1134.8,1197.3 1094,1123"/>
<path transform="translate(1105.9,1190.9)" d="M0,4.6 L4.7,0 L4.7,19.5"/>
<path transform="translate(1116.4,1190.9)" d="M0,0.4 L9.5,0.4 L4.4,19.5"/>
<polyline points="1132.8,1215.1 1099,1215.1 1035.7,1096.6"/>
<path transform="translate(1056.4,1216.1)" d="M0,4.6 L4.7,0 L4.7,19.5"/>
<path transform="translate(1066.9,1216.1)" d="M0.9,4.7 A4.1,4.45 0 1,0 9.1,4.7 A4.1,4.45 0 1,0 0.9,4.7 Z M0.1,14.3 A4.9,5.1 0 1,0 9.9,14.3 A4.9,5.1 0 1,0 0.1,14.3 Z"/>
<polyline points="1083.5,1240.3 1049.7,1240.3 1006.2,1158"/>
<path transform="translate(994.4,1246.6)" d="M0,4.6 L4.7,0 L4.7,19.5"/>
<path transform="translate(1004.9,1246.6)" d="M1.8,19.5 C6.4,18 9.4,13 9.4,6.7 C9.4,2.2 7.4,0 4.7,0 C2,0 0,2.2 0,5.9 C0,9.6 2,11.7 4.7,11.7 C6.8,11.7 8.4,10.5 9.1,9"/>
<polyline points="1021.2,1270.8 987.4,1270.8 951.1,1199.8"/>
<path transform="translate(913.9,1286.7)" d="M0,4.6 L4.7,0 L4.7,19.5"/>
<path transform="translate(924.4,1286.7)" d="M0.9,4.7 A4.1,4.45 0 1,0 9.1,4.7 A4.1,4.45 0 1,0 0.9,4.7 Z M0.1,14.3 A4.9,5.1 0 1,0 9.9,14.3 A4.9,5.1 0 1,0 0.1,14.3 Z"/>
<polyline points="941,1310.9 907.2,1310.9 865.2,1228.7"/>
<path transform="translate(1238.9,1190.5)" d="M9.2,0.4 L1.2,0.4 L0.7,8.6 C1.9,7.6 3.4,7.2 4.9,7.2 C7.9,7.2 9.6,9.6 9.6,13.2 C9.6,17.2 7.4,19.3 4.7,19.3 C2.7,19.3 1.1,18.5 0.2,17.2"/>
<path transform="translate(1254.3,1190.5)" d="M0,4.6 L4.7,0 L4.7,19.5"/>
<polyline points="1232.1,1214.7 1265.9,1214.7 1311.1,1129.4"/>
<path transform="translate(1430.9,1023.8)" d="M9.2,0.4 L1.2,0.4 L0.7,8.6 C1.9,7.6 3.4,7.2 4.9,7.2 C7.9,7.2 9.6,9.6 9.6,13.2 C9.6,17.2 7.4,19.3 4.7,19.3 C2.7,19.3 1.1,18.5 0.2,17.2"/>
<path transform="translate(1446.3,1023.8)" d="M0.3,3.4 C1.3,1 3,0 5,0 C7.8,0 9.5,1.9 9.5,4.8 C9.5,7.6 7.8,9.6 5.2,12.6 C3,15.2 1.2,17.2 0.4,19.1 L9.8,19.1"/>
<polyline points="1460.4,1048 1426.6,1048 1384.6,1128.4"/>
<path transform="translate(1455.5,1089.3)" d="M0,0.4 L5.4,0.4 C8,0.4 9.4,2.3 9.4,4.8 C9.4,7.3 7.8,9.1 5.4,9.1 L2.2,9.1 M5.4,9.1 C8.2,9.1 9.8,11.3 9.8,14.2 C9.8,17.2 8,19.2 5.4,19.2 L0,19.2"/>
<path transform="translate(1471.1,1089.3)" d="M0,4.6 L4.7,0 L4.7,19.5"/>
<polyline points="1482.6,1113.5 1448.8,1113.5 1427,1157.3"/>
<path transform="translate(1298.2,1269.8)" d="M0,0.4 L5.4,0.4 C8,0.4 9.4,2.3 9.4,4.8 C9.4,7.3 7.8,9.1 5.4,9.1 L2.2,9.1 M5.4,9.1 C8.2,9.1 9.8,11.3 9.8,14.2 C9.8,17.2 8,19.2 5.4,19.2 L0,19.2"/>
<path transform="translate(1313.8,1269.8)" d="M0,4.6 L4.7,0 L4.7,19.5"/>
<polyline points="1291.4,1294 1325.2,1294 1396,1156.3"/>
<path transform="translate(1515.2,1066.5)" d="M9.2,0.4 L1.2,0.4 L0.7,8.6 C1.9,7.6 3.4,7.2 4.9,7.2 C7.9,7.2 9.6,9.6 9.6,13.2 C9.6,17.2 7.4,19.3 4.7,19.3 C2.7,19.3 1.1,18.5 0.2,17.2"/>
<path transform="translate(1530.6,1066.5)" d="M0,0.4 L5.4,0.4 C8,0.4 9.4,2.3 9.4,4.8 C9.4,7.3 7.8,9.1 5.4,9.1 L2.2,9.1 M5.4,9.1 C8.2,9.1 9.8,11.3 9.8,14.2 C9.8,17.2 8,19.2 5.4,19.2 L0,19.2"/>
<polyline points="1544.7,1090.7 1510.9,1090.7 1467.4,1176"/>
<path transform="translate(1559.0,1089.3)" d="M9.2,0.4 L1.2,0.4 L0.7,8.6 C1.9,7.6 3.4,7.2 4.9,7.2 C7.9,7.2 9.6,9.6 9.6,13.2 C9.6,17.2 7.4,19.3 4.7,19.3 C2.7,19.3 1.1,18.5 0.2,17.2"/>
<path transform="translate(1574.4,1089.3)" d="M6.3,0 L0,14.6 L11.3,14.6 M7.6,11 L7.6,19.5"/>
<polyline points="1589.2,1113.5 1555.4,1113.5 1523.3,1176"/>
<path transform="translate(1624.7,1121.8)" d="M9.2,0.4 L1.2,0.4 L0.7,8.6 C1.9,7.6 3.4,7.2 4.9,7.2 C7.9,7.2 9.6,9.6 9.6,13.2 C9.6,17.2 7.4,19.3 4.7,19.3 C2.7,19.3 1.1,18.5 0.2,17.2"/>
<path transform="translate(1640.1,1121.8)" d="M9.2,0.4 L1.2,0.4 L0.7,8.6 C1.9,7.6 3.4,7.2 4.9,7.2 C7.9,7.2 9.6,9.6 9.6,13.2 C9.6,17.2 7.4,19.3 4.7,19.3 C2.7,19.3 1.1,18.5 0.2,17.2"/>
<polyline points="1654.1,1146 1620.3,1146 1598,1188"/>
<path transform="translate(1682.8,1150.8)" d="M9.2,0.4 L1.2,0.4 L0.7,8.6 C1.9,7.6 3.4,7.2 4.9,7.2 C7.9,7.2 9.6,9.6 9.6,13.2 C9.6,17.2 7.4,19.3 4.7,19.3 C2.7,19.3 1.1,18.5 0.2,17.2"/>
<path transform="translate(1698.2,1150.8)" d="M7.6,0 C3,1.5 0,6.5 0,12.8 C0,17.3 2,19.5 4.7,19.5 C7.4,19.5 9.4,17.3 9.4,13.6 C9.4,9.9 7.4,7.8 4.7,7.8 C2.6,7.8 1,9 0.3,10.5"/>
<polyline points="1712.1,1175 1678.3,1175 1645.1,1235.6"/>
<path transform="translate(1780.9,1200.6)" d="M9.2,0.4 L1.2,0.4 L0.7,8.6 C1.9,7.6 3.4,7.2 4.9,7.2 C7.9,7.2 9.6,9.6 9.6,13.2 C9.6,17.2 7.4,19.3 4.7,19.3 C2.7,19.3 1.1,18.5 0.2,17.2"/>
<path transform="translate(1796.3,1200.6)" d="M0,0.4 L9.5,0.4 L4.4,19.5"/>
<polyline points="1810.2,1224.8 1776.4,1224.8 1734.6,1303.9"/>
<path transform="translate(1618.5,1383.3)" d="M9.2,0.4 L1.2,0.4 L0.7,8.6 C1.9,7.6 3.4,7.2 4.9,7.2 C7.9,7.2 9.6,9.6 9.6,13.2 C9.6,17.2 7.4,19.3 4.7,19.3 C2.7,19.3 1.1,18.5 0.2,17.2"/>
<path transform="translate(1633.9,1383.3)" d="M0,0.4 L9.5,0.4 L4.4,19.5"/>
<polyline points="1614,1407.5 1647.8,1407.5 1693.2,1320.5"/>
<path transform="translate(1889.9,1259.7)" d="M9.2,0.4 L1.2,0.4 L0.7,8.6 C1.9,7.6 3.4,7.2 4.9,7.2 C7.9,7.2 9.6,9.6 9.6,13.2 C9.6,17.2 7.4,19.3 4.7,19.3 C2.7,19.3 1.1,18.5 0.2,17.2"/>
<path transform="translate(1905.3,1259.7)" d="M0.9,4.7 A4.1,4.45 0 1,0 9.1,4.7 A4.1,4.45 0 1,0 0.9,4.7 Z M0.1,14.3 A4.9,5.1 0 1,0 9.9,14.3 A4.9,5.1 0 1,0 0.1,14.3 Z"/>
<polyline points="1919.5,1283.9 1885.7,1283.9 1864,1323.6"/>
<path transform="translate(1949.8,1290.1)" d="M9.2,0.4 L1.2,0.4 L0.7,8.6 C1.9,7.6 3.4,7.2 4.9,7.2 C7.9,7.2 9.6,9.6 9.6,13.2 C9.6,17.2 7.4,19.3 4.7,19.3 C2.7,19.3 1.1,18.5 0.2,17.2"/>
<path transform="translate(1965.2,1290.1)" d="M1.8,19.5 C6.4,18 9.4,13 9.4,6.7 C9.4,2.2 7.4,0 4.7,0 C2,0 0,2.2 0,5.9 C0,9.6 2,11.7 4.7,11.7 C6.8,11.7 8.4,10.5 9.1,9"/>
<polyline points="1979.1,1314.3 1945.3,1314.3 1901.2,1405.4"/>
<path transform="translate(301.9,1052.8)" d="M0,4.6 L4.7,0 L4.7,19.5"/>
<polyline points="287.3,1077 321.1,1077 399.1,1225.7"/>
<path transform="translate(367.7,1081.4)" d="M0,0.4 L5.4,0.4 C8,0.4 9.4,2.3 9.4,4.8 C9.4,7.3 7.8,9.1 5.4,9.1 L2.2,9.1 M5.4,9.1 C8.2,9.1 9.8,11.3 9.8,14.2 C9.8,17.2 8,19.2 5.4,19.2 L0,19.2"/>
<path transform="translate(383.3,1081.4)" d="M0,0.4 L5.4,0.4 C8,0.4 9.4,2.3 9.4,4.8 C9.4,7.3 7.8,9.1 5.4,9.1 L2.2,9.1 M5.4,9.1 C8.2,9.1 9.8,11.3 9.8,14.2 C9.8,17.2 8,19.2 5.4,19.2 L0,19.2"/>
<polyline points="363.5,1105.6 397.3,1105.6 443.9,1193.6"/>
<path transform="translate(473.6,1028.0)" d="M0,0.4 L5.4,0.4 C8,0.4 9.4,2.3 9.4,4.8 C9.4,7.3 7.8,9.1 5.4,9.1 L2.2,9.1 M5.4,9.1 C8.2,9.1 9.8,11.3 9.8,14.2 C9.8,17.2 8,19.2 5.4,19.2 L0,19.2"/>
<path transform="translate(489.2,1028.0)" d="M6.3,0 L0,14.6 L11.3,14.6 M7.6,11 L7.6,19.5"/>
<polyline points="470.1,1052.2 503.9,1052.2 528.7,1100.4"/>
<path transform="translate(512.7,1008.5)" d="M0,0.4 L5.4,0.4 C8,0.4 9.4,2.3 9.4,4.8 C9.4,7.3 7.8,9.1 5.4,9.1 L2.2,9.1 M5.4,9.1 C8.2,9.1 9.8,11.3 9.8,14.2 C9.8,17.2 8,19.2 5.4,19.2 L0,19.2"/>
<path transform="translate(528.3,1008.5)" d="M9.2,0.4 L1.2,0.4 L0.7,8.6 C1.9,7.6 3.4,7.2 4.9,7.2 C7.9,7.2 9.6,9.6 9.6,13.2 C9.6,17.2 7.4,19.3 4.7,19.3 C2.7,19.3 1.1,18.5 0.2,17.2"/>
<polyline points="508.4,1032.7 542.2,1032.7 582,1109.7"/>
<path transform="translate(490.9,1291.8)" d="M0,4.6 L4.7,0 L4.7,19.5"/>
<polyline points="510.1,1316 476.3,1316 447.4,1260.9"/>
<path transform="translate(564.5,1210.2)" d="M0.3,3.4 C1.3,1 3,0 5,0 C7.8,0 9.5,1.9 9.5,4.8 C9.5,7.6 7.8,9.6 5.2,12.6 C3,15.2 1.2,17.2 0.4,19.1 L9.8,19.1"/>
<path transform="translate(580.1,1210.2)" d="M0,0.4 L5.4,0.4 C8,0.4 9.4,2.3 9.4,4.8 C9.4,7.3 7.8,9.1 5.4,9.1 L2.2,9.1 M5.4,9.1 C8.2,9.1 9.8,11.3 9.8,14.2 C9.8,17.2 8,19.2 5.4,19.2 L0,19.2"/>
<polyline points="560.3,1234.4 594.1,1234.4 619.6,1283"/>
<path transform="translate(528.3,1228.3)" d="M0.3,3.4 C1.3,1 3,0 5,0 C7.8,0 9.5,1.9 9.5,4.8 C9.5,7.6 7.8,9.6 5.2,12.6 C3,15.2 1.2,17.2 0.4,19.1 L9.8,19.1"/>
<path transform="translate(543.9,1228.3)" d="M0,0.4 L5.4,0.4 C8,0.4 9.4,2.3 9.4,4.8 C9.4,7.3 7.8,9.1 5.4,9.1 L2.2,9.1 M5.4,9.1 C8.2,9.1 9.8,11.3 9.8,14.2 C9.8,17.2 8,19.2 5.4,19.2 L0,19.2"/>
<polyline points="524.1,1252.5 557.9,1252.5 594.5,1325"/>
<path transform="translate(612.3,1186.8)" d="M0.3,3.4 C1.3,1 3,0 5,0 C7.8,0 9.5,1.9 9.5,4.8 C9.5,7.6 7.8,9.6 5.2,12.6 C3,15.2 1.2,17.2 0.4,19.1 L9.8,19.1"/>
<path transform="translate(627.9,1186.8)" d="M0.3,3.4 C1.3,1 3,0 5,0 C7.8,0 9.5,1.9 9.5,4.8 C9.5,7.6 7.8,9.6 5.2,12.6 C3,15.2 1.2,17.2 0.4,19.1 L9.8,19.1"/>
<polyline points="608.1,1211 641.9,1211 678.4,1281.5"/>
<path transform="translate(655.7,1166.2)" d="M0,4.6 L4.7,0 L4.7,19.5"/>
<path transform="translate(666.2,1166.2)" d="M0,0.4 L9.5,0.4 L4.4,19.5"/>
<polyline points="648.8,1190.4 682.6,1190.4 700.2,1224.6"/>
<path transform="translate(723.9,1132.4)" d="M0.3,3.4 C1.3,1 3,0 5,0 C7.8,0 9.5,1.9 9.5,4.8 C9.5,7.6 7.8,9.6 5.2,12.6 C3,15.2 1.2,17.2 0.4,19.1 L9.8,19.1"/>
<path transform="translate(739.5,1132.4)" d="M0,4.6 L4.7,0 L4.7,19.5"/>
<polyline points="717.1,1156.6 750.9,1156.6 777.8,1209"/>
<path transform="translate(724.7,1380.5)" d="M0.3,3.4 C1.3,1 3,0 5,0 C7.8,0 9.5,1.9 9.5,4.8 C9.5,7.6 7.8,9.6 5.2,12.6 C3,15.2 1.2,17.2 0.4,19.1 L9.8,19.1"/>
<path transform="translate(740.3,1380.5)" d="M0,0.4 L5.4,0.4 C8,0.4 9.4,2.3 9.4,4.8 C9.4,7.3 7.8,9.1 5.4,9.1 L2.2,9.1 M5.4,9.1 C8.2,9.1 9.8,11.3 9.8,14.2 C9.8,17.2 8,19.2 5.4,19.2 L0,19.2"/>
<polyline points="754.3,1404.7 720.5,1404.7 676.4,1321.9"/>
<path transform="translate(687.8,1398.5)" d="M0.3,3.4 C1.3,1 3,0 5,0 C7.8,0 9.5,1.9 9.5,4.8 C9.5,7.6 7.8,9.6 5.2,12.6 C3,15.2 1.2,17.2 0.4,19.1 L9.8,19.1"/>
<path transform="translate(703.4,1398.5)" d="M0,0.4 L5.4,0.4 C8,0.4 9.4,2.3 9.4,4.8 C9.4,7.3 7.8,9.1 5.4,9.1 L2.2,9.1 M5.4,9.1 C8.2,9.1 9.8,11.3 9.8,14.2 C9.8,17.2 8,19.2 5.4,19.2 L0,19.2"/>
<polyline points="717.4,1422.7 683.6,1422.7 653.6,1367.4"/>
<path transform="translate(797.8,1345.0)" d="M0,4.6 L4.7,0 L4.7,19.5"/>
<path transform="translate(808.3,1345.0)" d="M0,0.4 L9.5,0.4 L4.4,19.5"/>
<polyline points="824.7,1369.2 790.9,1369.2 776.8,1343.6"/>
<path transform="translate(817.0,1381.1)" d="M0,0.4 L5.4,0.4 C8,0.4 9.4,2.3 9.4,4.8 C9.4,7.3 7.8,9.1 5.4,9.1 L2.2,9.1 M5.4,9.1 C8.2,9.1 9.8,11.3 9.8,14.2 C9.8,17.2 8,19.2 5.4,19.2 L0,19.2"/>
<path transform="translate(832.6,1381.1)" d="M0,4.6 L4.7,0 L4.7,19.5"/>
<polyline points="810.3,1405.3 844.1,1405.3 860,1437"/>
<path transform="translate(594.4,1445.3)" d="M0.3,3.4 C1.3,1 3,0 5,0 C7.8,0 9.5,1.9 9.5,4.8 C9.5,7.6 7.8,9.6 5.2,12.6 C3,15.2 1.2,17.2 0.4,19.1 L9.8,19.1"/>
<path transform="translate(610.0,1445.3)" d="M6.3,0 L0,14.6 L11.3,14.6 M7.6,11 L7.6,19.5"/>
<polyline points="624.7,1469.5 590.9,1469.5 566.6,1423.3"/>
<path transform="translate(532.6,1475.8)" d="M0.3,3.4 C1.3,1 3,0 5,0 C7.8,0 9.5,1.9 9.5,4.8 C9.5,7.6 7.8,9.6 5.2,12.6 C3,15.2 1.2,17.2 0.4,19.1 L9.8,19.1"/>
<path transform="translate(548.2,1475.8)" d="M9.2,0.4 L1.2,0.4 L0.7,8.6 C1.9,7.6 3.4,7.2 4.9,7.2 C7.9,7.2 9.6,9.6 9.6,13.2 C9.6,17.2 7.4,19.3 4.7,19.3 C2.7,19.3 1.1,18.5 0.2,17.2"/>
<polyline points="562.1,1500 528.3,1500 479.7,1409.9"/>
<path transform="translate(341.6,1321.4)" d="M0.3,3.4 C1.3,1 3,0 5,0 C7.8,0 9.5,1.9 9.5,4.8 C9.5,7.6 7.8,9.6 5.2,12.6 C3,15.2 1.2,17.2 0.4,19.1 L9.8,19.1"/>
<path transform="translate(357.2,1321.4)" d="M7.6,0 C3,1.5 0,6.5 0,12.8 C0,17.3 2,19.5 4.7,19.5 C7.4,19.5 9.4,17.3 9.4,13.6 C9.4,9.9 7.4,7.8 4.7,7.8 C2.6,7.8 1,9 0.3,10.5"/>
<polyline points="337.2,1345.6 371,1345.6 405.7,1412.8"/>
<path transform="translate(492.5,1498.9)" d="M0.3,3.4 C1.3,1 3,0 5,0 C7.8,0 9.5,1.9 9.5,4.8 C9.5,7.6 7.8,9.6 5.2,12.6 C3,15.2 1.2,17.2 0.4,19.1 L9.8,19.1"/>
<path transform="translate(508.1,1498.9)" d="M7.6,0 C3,1.5 0,6.5 0,12.8 C0,17.3 2,19.5 4.7,19.5 C7.4,19.5 9.4,17.3 9.4,13.6 C9.4,9.9 7.4,7.8 4.7,7.8 C2.6,7.8 1,9 0.3,10.5"/>
<polyline points="521.9,1523.1 488.1,1523.1 442,1438"/>
<path transform="translate(102.0,1443.1)" d="M0,0.4 L5.4,0.4 C8,0.4 9.4,2.3 9.4,4.8 C9.4,7.3 7.8,9.1 5.4,9.1 L2.2,9.1 M5.4,9.1 C8.2,9.1 9.8,11.3 9.8,14.2 C9.8,17.2 8,19.2 5.4,19.2 L0,19.2"/>
<path transform="translate(117.6,1443.1)" d="M0,4.6 L4.7,0 L4.7,19.5"/>
<polyline points="95.2,1467.3 129,1467.3 140.7,1491.5"/>
<path transform="translate(245.2,1370.0)" d="M0.3,3.4 C1.3,1 3,0 5,0 C7.8,0 9.5,1.9 9.5,4.8 C9.5,7.6 7.8,9.6 5.2,12.6 C3,15.2 1.2,17.2 0.4,19.1 L9.8,19.1"/>
<path transform="translate(260.8,1370.0)" d="M0.9,4.7 A4.1,4.45 0 1,0 9.1,4.7 A4.1,4.45 0 1,0 0.9,4.7 Z M0.1,14.3 A4.9,5.1 0 1,0 9.9,14.3 A4.9,5.1 0 1,0 0.1,14.3 Z"/>
<polyline points="241.1,1394.2 274.9,1394.2 310.5,1461.5"/>
<path transform="translate(245.5,1402.5)" d="M0.3,3.4 C1.3,1 3,0 5,0 C7.8,0 9.5,1.9 9.5,4.8 C9.5,7.6 7.8,9.6 5.2,12.6 C3,15.2 1.2,17.2 0.4,19.1 L9.8,19.1"/>
<path transform="translate(261.1,1402.5)" d="M1.8,19.5 C6.4,18 9.4,13 9.4,6.7 C9.4,2.2 7.4,0 4.7,0 C2,0 0,2.2 0,5.9 C0,9.6 2,11.7 4.7,11.7 C6.8,11.7 8.4,10.5 9.1,9"/>
<polyline points="241.1,1426.7 274.9,1426.7 305.3,1485.3"/>
<path transform="translate(436.0,1524.2)" d="M0.3,3.4 C1.3,1 3,0 5,0 C7.8,0 9.5,1.9 9.5,4.8 C9.5,7.6 7.8,9.6 5.2,12.6 C3,15.2 1.2,17.2 0.4,19.1 L9.8,19.1"/>
<path transform="translate(451.6,1524.2)" d="M0,0.4 L9.5,0.4 L4.4,19.5"/>
<polyline points="465.4,1548.4 431.6,1548.4 399.5,1486.3"/>
<path transform="translate(396.8,1544.3)" d="M0.3,3.4 C1.3,1 3,0 5,0 C7.8,0 9.5,1.9 9.5,4.8 C9.5,7.6 7.8,9.6 5.2,12.6 C3,15.2 1.2,17.2 0.4,19.1 L9.8,19.1"/>
<path transform="translate(412.4,1544.3)" d="M0.9,4.7 A4.1,4.45 0 1,0 9.1,4.7 A4.1,4.45 0 1,0 0.9,4.7 Z M0.1,14.3 A4.9,5.1 0 1,0 9.9,14.3 A4.9,5.1 0 1,0 0.1,14.3 Z"/>
<polyline points="426.5,1568.5 392.7,1568.5 349.8,1483.2"/>
<path transform="translate(352.2,1566.7)" d="M0.3,3.4 C1.3,1 3,0 5,0 C7.8,0 9.5,1.9 9.5,4.8 C9.5,7.6 7.8,9.6 5.2,12.6 C3,15.2 1.2,17.2 0.4,19.1 L9.8,19.1"/>
<path transform="translate(367.8,1566.7)" d="M1.8,19.5 C6.4,18 9.4,13 9.4,6.7 C9.4,2.2 7.4,0 4.7,0 C2,0 0,2.2 0,5.9 C0,9.6 2,11.7 4.7,11.7 C6.8,11.7 8.4,10.5 9.1,9"/>
<polyline points="381.6,1590.9 347.8,1590.9 290.8,1486.3"/>
<path transform="translate(301.1,1592.2)" d="M0,0.4 L5.4,0.4 C8,0.4 9.4,2.3 9.4,4.8 C9.4,7.3 7.8,9.1 5.4,9.1 L2.2,9.1 M5.4,9.1 C8.2,9.1 9.8,11.3 9.8,14.2 C9.8,17.2 8,19.2 5.4,19.2 L0,19.2"/>
<path transform="translate(316.7,1592.2)" d="M4.65,0 C7.3,0 9.3,3.2 9.3,9.75 C9.3,16.3 7.3,19.5 4.65,19.5 C2,19.5 0,16.3 0,9.75 C0,3.2 2,0 4.65,0 Z"/>
<polyline points="330.4,1616.4 296.6,1616.4 284.6,1589.9"/>
<path transform="translate(243.3,1621.6)" d="M0,0.4 L5.4,0.4 C8,0.4 9.4,2.3 9.4,4.8 C9.4,7.3 7.8,9.1 5.4,9.1 L2.2,9.1 M5.4,9.1 C8.2,9.1 9.8,11.3 9.8,14.2 C9.8,17.2 8,19.2 5.4,19.2 L0,19.2"/>
<path transform="translate(258.9,1621.6)" d="M0,4.6 L4.7,0 L4.7,19.5"/>
<polyline points="270.4,1645.8 236.6,1645.8 201.8,1576.4"/>
<path transform="translate(202.9,1640.2)" d="M0,0.4 L5.4,0.4 C8,0.4 9.4,2.3 9.4,4.8 C9.4,7.3 7.8,9.1 5.4,9.1 L2.2,9.1 M5.4,9.1 C8.2,9.1 9.8,11.3 9.8,14.2 C9.8,17.2 8,19.2 5.4,19.2 L0,19.2"/>
<path transform="translate(218.5,1640.2)" d="M0.3,3.4 C1.3,1 3,0 5,0 C7.8,0 9.5,1.9 9.5,4.8 C9.5,7.6 7.8,9.6 5.2,12.6 C3,15.2 1.2,17.2 0.4,19.1 L9.8,19.1"/>
<polyline points="232.5,1664.4 198.7,1664.4 187.3,1639.5"/>
<path transform="translate(166.2,1658.8)" d="M0,0.4 L5.4,0.4 C8,0.4 9.4,2.3 9.4,4.8 C9.4,7.3 7.8,9.1 5.4,9.1 L2.2,9.1 M5.4,9.1 C8.2,9.1 9.8,11.3 9.8,14.2 C9.8,17.2 8,19.2 5.4,19.2 L0,19.2"/>
<path transform="translate(181.8,1658.8)" d="M0.3,3.4 C1.3,1 3,0 5,0 C7.8,0 9.5,1.9 9.5,4.8 C9.5,7.6 7.8,9.6 5.2,12.6 C3,15.2 1.2,17.2 0.4,19.1 L9.8,19.1"/>
<polyline points="195.8,1683 162,1683 121.1,1605.4"/>
<path transform="translate(956.6,1524.9)" d="M0,0.4 L5.4,0.4 C8,0.4 9.4,2.3 9.4,4.8 C9.4,7.3 7.8,9.1 5.4,9.1 L2.2,9.1 M5.4,9.1 C8.2,9.1 9.8,11.3 9.8,14.2 C9.8,17.2 8,19.2 5.4,19.2 L0,19.2"/>
<path transform="translate(972.2,1524.9)" d="M0,4.6 L4.7,0 L4.7,19.5"/>
<polyline points="983.7,1549.1 949.9,1549.1 900.7,1458.4"/>
<path transform="translate(904.6,1549.7)" d="M7.6,0 C3,1.5 0,6.5 0,12.8 C0,17.3 2,19.5 4.7,19.5 C7.4,19.5 9.4,17.3 9.4,13.6 C9.4,9.9 7.4,7.8 4.7,7.8 C2.6,7.8 1,9 0.3,10.5"/>
<path transform="translate(919.8,1549.7)" d="M0.3,3.4 C1.3,1 3,0 5,0 C7.8,0 9.5,1.9 9.5,4.8 C9.5,7.6 7.8,9.6 5.2,12.6 C3,15.2 1.2,17.2 0.4,19.1 L9.8,19.1"/>
<polyline points="934,1573.9 900.2,1573.9 880.9,1539.1"/>
<path transform="translate(1009.6,1498.0)" d="M7.6,0 C3,1.5 0,6.5 0,12.8 C0,17.3 2,19.5 4.7,19.5 C7.4,19.5 9.4,17.3 9.4,13.6 C9.4,9.9 7.4,7.8 4.7,7.8 C2.6,7.8 1,9 0.3,10.5"/>
<path transform="translate(1024.8,1498.0)" d="M0,4.6 L4.7,0 L4.7,19.5"/>
<polyline points="1036.4,1522.2 1002.6,1522.2 961.6,1441"/>
<path transform="translate(1061.5,1471.0)" d="M7.6,0 C3,1.5 0,6.5 0,12.8 C0,17.3 2,19.5 4.7,19.5 C7.4,19.5 9.4,17.3 9.4,13.6 C9.4,9.9 7.4,7.8 4.7,7.8 C2.6,7.8 1,9 0.3,10.5"/>
<path transform="translate(1076.7,1471.0)" d="M4.65,0 C7.3,0 9.3,3.2 9.3,9.75 C9.3,16.3 7.3,19.5 4.65,19.5 C2,19.5 0,16.3 0,9.75 C0,3.2 2,0 4.65,0 Z"/>
<polyline points="1090.6,1495.2 1056.8,1495.2 1008.8,1406.2"/>
<path transform="translate(761.0,1621.3)" d="M7.6,0 C3,1.5 0,6.5 0,12.8 C0,17.3 2,19.5 4.7,19.5 C7.4,19.5 9.4,17.3 9.4,13.6 C9.4,9.9 7.4,7.8 4.7,7.8 C2.6,7.8 1,9 0.3,10.5"/>
<path transform="translate(776.2,1621.3)" d="M0,0.4 L5.4,0.4 C8,0.4 9.4,2.3 9.4,4.8 C9.4,7.3 7.8,9.1 5.4,9.1 L2.2,9.1 M5.4,9.1 C8.2,9.1 9.8,11.3 9.8,14.2 C9.8,17.2 8,19.2 5.4,19.2 L0,19.2"/>
<polyline points="790.4,1645.5 756.6,1645.5 736.8,1607.5"/>
</g>
</svg>
</body></html>
